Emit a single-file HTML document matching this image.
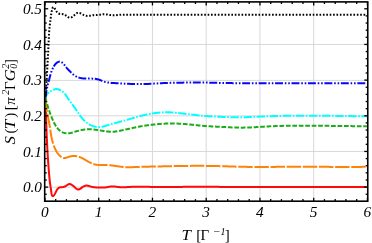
<!DOCTYPE html>
<html><head><meta charset="utf-8">
<style>
html,body{margin:0;padding:0;background:#fff;}
body{width:372px;height:243px;overflow:hidden;}
svg{display:block;will-change:transform;}
text{font-family:"Liberation Serif",serif;fill:#000;}
.tl text{font-size:15.3px;font-style:italic;}
.c path{fill:none;stroke-width:2.0;stroke-linejoin:round;}
</style></head><body>
<svg width="372" height="243" viewBox="0 0 372 243">
<rect width="372" height="243" fill="#fff"/>
<g stroke="#d8d8d8" stroke-width="1"><line x1="98.70" y1="1.9" x2="98.70" y2="201.2"/><line x1="152.45" y1="1.9" x2="152.45" y2="201.2"/><line x1="206.20" y1="1.9" x2="206.20" y2="201.2"/><line x1="259.95" y1="1.9" x2="259.95" y2="201.2"/><line x1="313.70" y1="1.9" x2="313.70" y2="201.2"/><line x1="44.7" y1="187.12" x2="367.75" y2="187.12"/><line x1="44.7" y1="151.45" x2="367.75" y2="151.45"/><line x1="44.7" y1="115.85" x2="367.75" y2="115.85"/><line x1="44.7" y1="80.40" x2="367.75" y2="80.40"/><line x1="44.7" y1="44.45" x2="367.75" y2="44.45"/></g>
<g class="c">
<path d="M45.40,97.70 L45.42,98.39 L45.45,99.08 L45.47,99.78 L45.49,100.47 L45.52,101.17 L45.54,101.86 L45.56,102.56 L45.59,103.25 L45.61,103.95 L45.63,104.65 L45.66,105.35 L45.68,106.05 L45.70,106.75 L45.72,107.45 L45.75,108.15 L45.77,108.85 L45.79,109.55 L45.82,110.25 L45.84,110.95 L45.86,111.66 L45.88,112.36 L45.91,113.06 L45.93,113.77 L45.95,114.47 L45.98,115.18 L46.00,115.88 L46.02,116.59 L46.05,117.29 L46.07,118.00 L46.10,118.71 L46.12,119.41 L46.14,120.12 L46.17,120.83 L46.19,121.53 L46.22,122.24 L46.24,122.95 L46.27,123.65 L46.29,124.36 L46.32,125.07 L46.34,125.78 L46.37,126.48 L46.39,127.19 L46.42,127.90 L46.45,128.60 L46.47,129.31 L46.50,130.02 L46.53,130.73 L46.56,131.43 L46.58,132.14 L46.61,132.84 L46.64,133.55 L46.67,134.26 L46.70,134.96 L46.73,135.67 L46.76,136.37 L46.79,137.08 L46.82,137.78 L46.85,138.49 L46.88,139.19 L46.91,139.90 L46.94,140.60 L46.98,141.30 L47.01,142.00 L47.04,142.71 L47.08,143.41 L47.11,144.11 L47.14,144.81 L47.18,145.51 L47.21,146.21 L47.25,146.91 L47.29,147.61 L47.32,148.30 L47.36,149.00 L47.40,149.70 L47.44,150.39 L47.48,151.09 L47.52,151.78 L47.56,152.48 L47.60,153.17 L47.64,153.86 L47.68,154.56 L47.72,155.25 L47.76,155.94 L47.81,156.63 L47.85,157.33 L47.90,158.02 L47.94,158.71 L47.99,159.40 L48.04,160.10 L48.08,160.79 L48.13,161.49 L48.18,162.18 L48.23,162.88 L48.28,163.58 L48.33,164.28 L48.38,164.98 L48.43,165.69 L48.48,166.39 L48.54,167.10 L48.59,167.80 L48.65,168.51 L48.70,169.23 L48.76,169.94 L48.82,170.66 L48.88,171.38 L48.93,172.10 L48.99,172.82 L49.05,173.55 L49.12,174.28 L49.18,175.01 L49.24,175.73 L49.31,176.46 L49.37,177.18 L49.44,177.90 L49.51,178.61 L49.58,179.32 L49.65,180.02 L49.73,180.71 L49.81,181.39 L49.89,182.06 L49.97,182.71 L50.05,183.35 L50.14,183.98 L50.23,184.59 L50.32,185.20 L50.42,185.82 L50.51,186.44 L50.62,187.09 L50.72,187.76 L50.83,188.47 L50.93,189.23 L51.05,190.03 L51.16,190.90 L51.28,191.83 L51.41,192.79 L51.56,193.73 L51.74,194.58 L51.97,195.30 L52.25,195.82 L52.60,196.09 L53.03,196.05 L53.53,195.71 L54.05,195.15 L54.54,194.49 L54.96,193.83 L55.31,193.18 L55.62,192.55 L55.90,191.93 L56.18,191.32 L56.47,190.71 L56.80,190.10 L57.18,189.49 L57.62,188.91 L58.11,188.37 L58.66,187.91 L59.25,187.56 L59.90,187.34 L60.58,187.23 L61.29,187.18 L62.01,187.14 L62.73,187.09 L63.43,186.97 L64.11,186.79 L64.77,186.55 L65.41,186.24 L66.02,185.85 L66.62,185.42 L67.21,184.97 L67.80,184.58 L68.41,184.27 L69.05,184.09 L69.72,184.09 L70.40,184.24 L71.09,184.50 L71.75,184.85 L72.37,185.25 L72.94,185.68 L73.47,186.13 L73.98,186.59 L74.48,187.07 L75.00,187.55 L75.54,188.04 L76.13,188.51 L76.74,188.94 L77.38,189.28 L78.02,189.47 L78.65,189.48 L79.27,189.31 L79.88,189.01 L80.49,188.60 L81.10,188.13 L81.71,187.64 L82.33,187.18 L82.96,186.76 L83.59,186.39 L84.23,186.08 L84.88,185.84 L85.54,185.68 L86.21,185.60 L86.88,185.61 L87.57,185.70 L88.25,185.85 L88.95,186.04 L89.64,186.25 L90.33,186.45 L91.03,186.64 L91.72,186.81 L92.41,186.95 L93.10,187.08 L93.79,187.18 L94.48,187.27 L95.17,187.33 L95.87,187.38 L96.57,187.42 L97.27,187.44 L97.98,187.46 L98.68,187.47 L99.39,187.48 L100.09,187.50 L100.59,187.51 L101.09,187.52 L101.59,187.53 L102.09,187.54 L102.59,187.54 L103.09,187.54 L103.59,187.53 L104.09,187.52 L104.59,187.49 L105.09,187.45 L105.59,187.40 L106.09,187.34 L106.59,187.27 L107.09,187.18 L107.59,187.08 L108.09,186.98 L108.59,186.88 L109.09,186.78 L109.59,186.68 L110.09,186.60 L110.59,186.52 L111.09,186.46 L111.59,186.43 L112.09,186.41 L112.59,186.40 L113.09,186.42 L113.59,186.45 L114.09,186.50 L114.59,186.55 L115.09,186.61 L115.59,186.67 L116.09,186.74 L116.59,186.81 L117.09,186.87 L117.59,186.93 L118.09,186.99 L118.59,187.05 L119.09,187.10 L119.59,187.14 L120.09,187.17 L120.59,187.20 L121.09,187.22 L121.59,187.24 L122.09,187.25 L122.59,187.25 L123.09,187.25 L123.59,187.25 L124.09,187.24 L124.59,187.23 L125.09,187.21 L125.59,187.19 L126.09,187.17 L126.59,187.15 L127.09,187.12 L127.59,187.10 L128.09,187.07 L128.59,187.04 L129.09,187.01 L129.59,186.98 L130.09,186.95 L130.59,186.92 L131.09,186.89 L131.59,186.86 L132.09,186.84 L132.59,186.81 L133.09,186.78 L133.59,186.76 L134.09,186.74 L134.59,186.72 L135.09,186.70 L135.59,186.68 L136.09,186.67 L136.59,186.66 L137.09,186.65 L137.59,186.64 L138.09,186.63 L138.59,186.63 L139.09,186.63 L139.59,186.63 L140.09,186.63 L140.59,186.63 L141.09,186.64 L141.59,186.64 L142.09,186.65 L142.59,186.66 L143.09,186.67 L143.59,186.68 L144.09,186.70 L144.59,186.71 L145.09,186.72 L145.59,186.74 L146.09,186.75 L146.59,186.77 L147.09,186.78 L147.59,186.80 L148.09,186.82 L148.59,186.83 L149.09,186.85 L149.59,186.86 L150.09,186.88 L150.59,186.89 L151.09,186.91 L151.59,186.92 L152.09,186.94 L152.59,186.95 L153.09,186.96 L153.59,186.97 L154.09,186.98 L154.59,186.99 L155.09,187.00 L155.59,187.01 L156.09,187.02 L156.59,187.03 L157.09,187.03 L157.59,187.04 L158.09,187.05 L158.59,187.05 L159.09,187.05 L159.59,187.06 L160.09,187.06 L160.59,187.06 L161.09,187.06 L161.59,187.07 L162.09,187.07 L162.59,187.07 L163.09,187.07 L163.59,187.07 L164.09,187.06 L164.59,187.06 L165.09,187.06 L165.59,187.06 L166.09,187.06 L166.59,187.05 L167.09,187.05 L167.59,187.05 L168.09,187.04 L168.59,187.04 L169.09,187.03 L169.59,187.03 L170.09,187.02 L170.59,187.02 L171.09,187.01 L171.59,187.01 L172.09,187.00 L172.59,186.99 L173.09,186.99 L173.59,186.98 L174.09,186.98 L174.59,186.97 L175.09,186.96 L175.59,186.96 L176.09,186.95 L176.59,186.95 L177.09,186.94 L177.59,186.93 L178.09,186.93 L178.59,186.92 L179.09,186.92 L179.59,186.91 L180.09,186.90 L180.59,186.90 L181.09,186.89 L181.59,186.89 L182.09,186.88 L182.59,186.88 L183.09,186.87 L183.59,186.87 L184.09,186.87 L184.59,186.86 L185.09,186.86 L185.59,186.85 L186.09,186.85 L186.59,186.85 L187.09,186.84 L187.59,186.84 L188.09,186.84 L188.59,186.83 L189.09,186.83 L189.59,186.83 L190.09,186.82 L190.59,186.82 L191.09,186.82 L191.59,186.82 L192.09,186.82 L192.59,186.81 L193.09,186.81 L193.59,186.81 L194.09,186.81 L194.59,186.81 L195.09,186.81 L195.59,186.81 L196.09,186.81 L196.59,186.81 L197.09,186.80 L197.59,186.80 L198.09,186.80 L198.59,186.80 L199.09,186.80 L199.59,186.80 L200.09,186.80 L200.59,186.80 L201.09,186.80 L201.59,186.81 L202.09,186.81 L202.59,186.81 L203.09,186.81 L203.59,186.81 L204.09,186.81 L204.59,186.81 L205.09,186.81 L205.59,186.81 L206.09,186.81 L206.59,186.82 L207.09,186.82 L207.59,186.82 L208.09,186.82 L208.59,186.82 L209.09,186.82 L209.59,186.83 L210.09,186.83 L210.59,186.83 L211.09,186.83 L211.59,186.83 L212.09,186.84 L212.59,186.84 L213.09,186.84 L213.59,186.84 L214.09,186.85 L214.59,186.85 L215.09,186.85 L215.59,186.85 L216.09,186.86 L216.59,186.86 L217.09,186.86 L217.59,186.87 L218.09,186.87 L218.59,186.87 L219.09,186.87 L219.59,186.88 L220.09,186.88 L220.59,186.88 L221.09,186.89 L221.59,186.89 L222.09,186.89 L222.59,186.90 L223.09,186.90 L223.59,186.90 L224.09,186.90 L224.59,186.91 L225.09,186.91 L225.59,186.91 L226.09,186.92 L226.59,186.92 L227.09,186.92 L227.59,186.93 L228.09,186.93 L228.59,186.93 L229.09,186.94 L229.59,186.94 L230.09,186.94 L230.59,186.95 L231.09,186.95 L231.59,186.95 L232.09,186.95 L232.59,186.96 L233.09,186.96 L233.59,186.96 L234.09,186.97 L234.59,186.97 L235.09,186.97 L235.59,186.97 L236.09,186.98 L236.59,186.98 L237.09,186.98 L237.59,186.99 L238.09,186.99 L238.59,186.99 L239.09,186.99 L239.59,187.00 L240.09,187.00 L240.59,187.00 L241.09,187.00 L241.59,187.01 L242.09,187.01 L242.59,187.01 L243.09,187.01 L243.59,187.01 L244.09,187.02 L244.59,187.02 L245.09,187.02 L245.59,187.02 L246.09,187.02 L246.59,187.02 L247.09,187.03 L247.59,187.03 L248.09,187.03 L248.59,187.03 L249.09,187.03 L249.59,187.03 L250.09,187.04 L250.59,187.04 L251.09,187.04 L251.59,187.04 L252.09,187.04 L252.59,187.04 L253.09,187.04 L253.59,187.04 L254.09,187.04 L254.59,187.05 L255.09,187.05 L255.59,187.05 L256.09,187.05 L256.59,187.05 L257.09,187.05 L257.59,187.05 L258.09,187.05 L258.59,187.05 L259.09,187.05 L259.59,187.05 L260.09,187.05 L260.59,187.05 L261.09,187.05 L261.59,187.05 L262.09,187.05 L262.59,187.05 L263.09,187.05 L263.59,187.05 L264.09,187.06 L264.59,187.06 L265.09,187.06 L265.59,187.06 L266.09,187.06 L266.59,187.06 L267.09,187.06 L267.59,187.06 L268.09,187.06 L268.59,187.05 L269.09,187.05 L269.59,187.05 L270.09,187.05 L270.59,187.05 L271.09,187.05 L271.59,187.05 L272.09,187.05 L272.59,187.05 L273.09,187.05 L273.59,187.05 L274.09,187.05 L274.59,187.05 L275.09,187.05 L275.59,187.05 L276.09,187.05 L276.59,187.05 L277.09,187.05 L277.59,187.05 L278.09,187.05 L278.59,187.05 L279.09,187.04 L279.59,187.04 L280.09,187.04 L280.59,187.04 L281.09,187.04 L281.59,187.04 L282.09,187.04 L282.59,187.04 L283.09,187.04 L283.59,187.04 L284.09,187.04 L284.59,187.04 L285.09,187.03 L285.59,187.03 L286.09,187.03 L286.59,187.03 L287.09,187.03 L287.59,187.03 L288.09,187.03 L288.59,187.03 L289.09,187.03 L289.59,187.02 L290.09,187.02 L290.59,187.02 L291.09,187.02 L291.59,187.02 L292.09,187.02 L292.59,187.02 L293.09,187.02 L293.59,187.02 L294.09,187.01 L294.59,187.01 L295.09,187.01 L295.59,187.01 L296.09,187.01 L296.59,187.01 L297.09,187.01 L297.59,187.01 L298.09,187.00 L298.59,187.00 L299.09,187.00 L299.59,187.00 L300.09,187.00 L300.59,187.00 L301.09,187.00 L301.59,187.00 L302.09,186.99 L302.59,186.99 L303.09,186.99 L303.59,186.99 L304.09,186.99 L304.59,186.99 L305.09,186.99 L305.59,186.99 L306.09,186.98 L306.59,186.98 L307.09,186.98 L307.59,186.98 L308.09,186.98 L308.59,186.98 L309.09,186.98 L309.59,186.98 L310.09,186.97 L310.59,186.97 L311.09,186.97 L311.59,186.97 L312.09,186.97 L312.59,186.97 L313.09,186.97 L313.59,186.97 L314.09,186.97 L314.59,186.96 L315.09,186.96 L315.59,186.96 L316.09,186.96 L316.59,186.96 L317.09,186.96 L317.59,186.96 L318.09,186.96 L318.59,186.96 L319.09,186.95 L319.59,186.95 L320.09,186.95 L320.59,186.95 L321.09,186.95 L321.59,186.95 L322.09,186.95 L322.59,186.95 L323.09,186.95 L323.59,186.95 L324.09,186.95 L324.59,186.94 L325.09,186.94 L325.59,186.94 L326.09,186.94 L326.59,186.94 L327.09,186.94 L327.59,186.94 L328.09,186.94 L328.59,186.94 L329.09,186.94 L329.59,186.94 L330.09,186.94 L330.59,186.94 L331.09,186.94 L331.59,186.94 L332.09,186.94 L332.59,186.94 L333.09,186.93 L333.59,186.93 L334.09,186.93 L334.59,186.93 L335.09,186.93 L335.59,186.93 L336.09,186.93 L336.59,186.93 L337.09,186.93 L337.59,186.93 L338.09,186.93 L338.59,186.93 L339.09,186.93 L339.59,186.93 L340.09,186.93 L340.59,186.93 L341.09,186.93 L341.59,186.93 L342.09,186.93 L342.59,186.93 L343.09,186.93 L343.59,186.93 L344.09,186.93 L344.59,186.94 L345.09,186.94 L345.59,186.94 L346.09,186.94 L346.59,186.94 L347.09,186.94 L347.59,186.94 L348.09,186.94 L348.59,186.94 L349.09,186.94 L349.59,186.94 L350.09,186.94 L350.59,186.94 L351.09,186.94 L351.59,186.95 L352.09,186.95 L352.59,186.95 L353.09,186.95 L353.59,186.95 L354.09,186.95 L354.59,186.95 L355.09,186.95 L355.59,186.96 L356.09,186.96 L356.59,186.96 L357.09,186.96 L357.59,186.96 L358.09,186.96 L358.59,186.96 L359.09,186.97 L359.59,186.97 L360.09,186.97 L360.59,186.97 L361.09,186.97 L361.59,186.97 L362.09,186.98 L362.59,186.98 L363.09,186.98 L363.59,186.98 L364.09,186.98 L364.59,186.98 L365.09,186.99 L365.59,186.99 L366.09,186.99 L366.59,186.99" stroke="#ff0808" stroke-width="1.95"/>
<path d="M45.40,97.70 L45.42,98.32 L45.44,98.94 L45.47,99.57 L45.50,100.18 L45.54,100.80 L45.59,101.42 L45.64,102.04 L45.70,102.66 L45.76,103.27 L45.83,103.89 L45.90,104.50 L45.98,105.11 L46.06,105.73 L46.14,106.34 L46.23,106.95 L46.32,107.56 L46.42,108.17 L46.51,108.78 L46.61,109.39 L46.72,110.00 L46.82,110.61 L46.93,111.22 L47.04,111.82 L47.15,112.43 L47.27,113.04 L47.38,113.65 L47.50,114.26 L47.62,114.86 L47.74,115.47 L47.86,116.08 L47.98,116.68 L48.10,117.29 L48.22,117.90 L48.34,118.50 L48.46,119.11 L48.57,119.72 L48.69,120.33 L48.81,120.94 L48.93,121.54 L49.04,122.15 L49.15,122.76 L49.26,123.37 L49.37,123.98 L49.48,124.59 L49.58,125.20 L49.69,125.81 L49.78,126.42 L49.88,127.03 L49.97,127.65 L50.07,128.26 L50.16,128.87 L50.25,129.49 L50.34,130.10 L50.43,130.71 L50.52,131.32 L50.61,131.94 L50.70,132.55 L50.80,133.16 L50.90,133.77 L51.00,134.38 L51.10,134.99 L51.21,135.60 L51.32,136.21 L51.43,136.82 L51.55,137.42 L51.68,138.03 L51.81,138.63 L51.94,139.23 L52.09,139.83 L52.24,140.43 L52.39,141.03 L52.55,141.63 L52.72,142.22 L52.90,142.81 L53.08,143.41 L53.27,144.00 L53.46,144.59 L53.67,145.17 L53.87,145.76 L54.09,146.34 L54.31,146.92 L54.55,147.50 L54.79,148.08 L55.04,148.65 L55.30,149.22 L55.57,149.78 L55.85,150.33 L56.14,150.87 L56.45,151.41 L56.77,151.93 L57.10,152.45 L57.45,152.95 L57.81,153.45 L58.19,153.93 L58.58,154.40 L59.00,154.86 L59.43,155.31 L59.89,155.74 L60.36,156.17 L60.86,156.58 L61.38,156.97 L61.91,157.31 L62.46,157.61 L63.03,157.84 L63.61,157.99 L64.20,158.04 L64.80,158.01 L65.40,157.91 L66.01,157.76 L66.62,157.57 L67.23,157.37 L67.84,157.15 L68.45,156.95 L69.06,156.76 L69.66,156.59 L70.27,156.44 L70.87,156.31 L71.47,156.20 L72.08,156.11 L72.69,156.04 L73.30,156.00 L73.91,155.98 L74.53,155.99 L75.15,156.03 L75.77,156.09 L76.39,156.17 L77.00,156.28 L77.61,156.41 L78.22,156.56 L78.81,156.74 L79.40,156.93 L79.98,157.15 L80.56,157.39 L81.12,157.64 L81.68,157.90 L82.24,158.18 L82.79,158.47 L83.33,158.77 L83.87,159.07 L84.41,159.38 L84.94,159.69 L85.48,160.01 L86.01,160.32 L86.54,160.64 L87.07,160.95 L87.61,161.26 L88.15,161.56 L88.69,161.87 L89.23,162.16 L89.78,162.45 L90.34,162.72 L90.90,162.99 L91.47,163.24 L92.04,163.48 L92.62,163.71 L93.20,163.92 L93.79,164.11 L94.38,164.29 L94.98,164.44 L95.58,164.58 L96.19,164.70 L96.80,164.79 L97.41,164.88 L98.03,164.94 L98.65,165.00 L99.27,165.04 L99.89,165.07 L100.51,165.09 L101.01,165.10 L101.51,165.10 L102.01,165.10 L102.51,165.10 L103.01,165.09 L103.51,165.09 L104.01,165.08 L104.51,165.08 L105.01,165.07 L105.51,165.07 L106.01,165.07 L106.51,165.07 L107.01,165.08 L107.51,165.10 L108.01,165.11 L108.51,165.14 L109.01,165.17 L109.51,165.21 L110.01,165.25 L110.51,165.30 L111.01,165.35 L111.51,165.41 L112.01,165.47 L112.51,165.53 L113.01,165.60 L113.51,165.67 L114.01,165.74 L114.51,165.82 L115.01,165.89 L115.51,165.97 L116.01,166.04 L116.51,166.12 L117.01,166.20 L117.51,166.27 L118.01,166.35 L118.51,166.42 L119.01,166.49 L119.51,166.56 L120.01,166.62 L120.51,166.69 L121.01,166.75 L121.51,166.81 L122.01,166.86 L122.51,166.91 L123.01,166.96 L123.51,167.00 L124.01,167.04 L124.51,167.07 L125.01,167.11 L125.51,167.13 L126.01,167.15 L126.51,167.17 L127.01,167.19 L127.51,167.20 L128.01,167.21 L128.51,167.21 L129.01,167.21 L129.51,167.21 L130.01,167.20 L130.51,167.20 L131.01,167.19 L131.51,167.18 L132.01,167.17 L132.51,167.16 L133.01,167.14 L133.51,167.12 L134.01,167.10 L134.51,167.08 L135.01,167.06 L135.51,167.04 L136.01,167.02 L136.51,167.00 L137.01,166.98 L137.51,166.96 L138.01,166.94 L138.51,166.92 L139.01,166.89 L139.51,166.88 L140.01,166.86 L140.51,166.84 L141.01,166.82 L141.51,166.80 L142.01,166.79 L142.51,166.77 L143.01,166.76 L143.51,166.75 L144.01,166.73 L144.51,166.72 L145.01,166.71 L145.51,166.70 L146.01,166.69 L146.51,166.68 L147.01,166.67 L147.51,166.66 L148.01,166.65 L148.51,166.64 L149.01,166.64 L149.51,166.63 L150.01,166.62 L150.51,166.61 L151.01,166.61 L151.51,166.60 L152.01,166.59 L152.51,166.58 L153.01,166.57 L153.51,166.56 L154.01,166.56 L154.51,166.55 L155.01,166.54 L155.51,166.53 L156.01,166.52 L156.51,166.51 L157.01,166.50 L157.51,166.49 L158.01,166.48 L158.51,166.47 L159.01,166.46 L159.51,166.44 L160.01,166.43 L160.51,166.42 L161.01,166.41 L161.51,166.40 L162.01,166.39 L162.51,166.37 L163.01,166.36 L163.51,166.35 L164.01,166.34 L164.51,166.32 L165.01,166.31 L165.51,166.30 L166.01,166.29 L166.51,166.28 L167.01,166.26 L167.51,166.25 L168.01,166.24 L168.51,166.23 L169.01,166.22 L169.51,166.20 L170.01,166.19 L170.51,166.18 L171.01,166.17 L171.51,166.16 L172.01,166.15 L172.51,166.14 L173.01,166.13 L173.51,166.12 L174.01,166.11 L174.51,166.10 L175.01,166.09 L175.51,166.08 L176.01,166.07 L176.51,166.06 L177.01,166.05 L177.51,166.04 L178.01,166.03 L178.51,166.02 L179.01,166.01 L179.51,166.01 L180.01,166.00 L180.51,165.99 L181.01,165.98 L181.51,165.98 L182.01,165.97 L182.51,165.96 L183.01,165.95 L183.51,165.95 L184.01,165.94 L184.51,165.94 L185.01,165.93 L185.51,165.92 L186.01,165.92 L186.51,165.91 L187.01,165.91 L187.51,165.90 L188.01,165.90 L188.51,165.89 L189.01,165.89 L189.51,165.89 L190.01,165.88 L190.51,165.88 L191.01,165.87 L191.51,165.87 L192.01,165.87 L192.51,165.87 L193.01,165.86 L193.51,165.86 L194.01,165.86 L194.51,165.86 L195.01,165.86 L195.51,165.85 L196.01,165.85 L196.51,165.85 L197.01,165.85 L197.51,165.85 L198.01,165.85 L198.51,165.85 L199.01,165.85 L199.51,165.85 L200.01,165.85 L200.51,165.86 L201.01,165.86 L201.51,165.86 L202.01,165.86 L202.51,165.86 L203.01,165.87 L203.51,165.87 L204.01,165.87 L204.51,165.88 L205.01,165.88 L205.51,165.89 L206.01,165.89 L206.51,165.90 L207.01,165.90 L207.51,165.91 L208.01,165.91 L208.51,165.92 L209.01,165.93 L209.51,165.93 L210.01,165.94 L210.51,165.95 L211.01,165.96 L211.51,165.96 L212.01,165.97 L212.51,165.98 L213.01,165.99 L213.51,166.00 L214.01,166.01 L214.51,166.02 L215.01,166.03 L215.51,166.04 L216.01,166.05 L216.51,166.06 L217.01,166.08 L217.51,166.09 L218.01,166.10 L218.51,166.11 L219.01,166.12 L219.51,166.14 L220.01,166.15 L220.51,166.16 L221.01,166.18 L221.51,166.19 L222.01,166.21 L222.51,166.22 L223.01,166.23 L223.51,166.25 L224.01,166.26 L224.51,166.28 L225.01,166.30 L225.51,166.31 L226.01,166.33 L226.51,166.34 L227.01,166.36 L227.51,166.37 L228.01,166.39 L228.51,166.41 L229.01,166.42 L229.51,166.44 L230.01,166.45 L230.51,166.47 L231.01,166.49 L231.51,166.50 L232.01,166.52 L232.51,166.54 L233.01,166.55 L233.51,166.57 L234.01,166.58 L234.51,166.60 L235.01,166.61 L235.51,166.63 L236.01,166.64 L236.51,166.66 L237.01,166.67 L237.51,166.68 L238.01,166.70 L238.51,166.71 L239.01,166.72 L239.51,166.74 L240.01,166.75 L240.51,166.76 L241.01,166.77 L241.51,166.78 L242.01,166.79 L242.51,166.80 L243.01,166.81 L243.51,166.82 L244.01,166.83 L244.51,166.84 L245.01,166.85 L245.51,166.86 L246.01,166.86 L246.51,166.87 L247.01,166.88 L247.51,166.88 L248.01,166.89 L248.51,166.90 L249.01,166.90 L249.51,166.91 L250.01,166.91 L250.51,166.92 L251.01,166.92 L251.51,166.92 L252.01,166.93 L252.51,166.93 L253.01,166.93 L253.51,166.94 L254.01,166.94 L254.51,166.94 L255.01,166.94 L255.51,166.94 L256.01,166.95 L256.51,166.95 L257.01,166.95 L257.51,166.95 L258.01,166.95 L258.51,166.95 L259.01,166.95 L259.51,166.95 L260.01,166.95 L260.51,166.95 L261.01,166.95 L261.51,166.95 L262.01,166.94 L262.51,166.94 L263.01,166.94 L263.51,166.94 L264.01,166.94 L264.51,166.94 L265.01,166.93 L265.51,166.93 L266.01,166.93 L266.51,166.93 L267.01,166.93 L267.51,166.92 L268.01,166.92 L268.51,166.92 L269.01,166.92 L269.51,166.91 L270.01,166.91 L270.51,166.91 L271.01,166.90 L271.51,166.90 L272.01,166.90 L272.51,166.90 L273.01,166.89 L273.51,166.89 L274.01,166.89 L274.51,166.88 L275.01,166.88 L275.51,166.88 L276.01,166.87 L276.51,166.87 L277.01,166.87 L277.51,166.87 L278.01,166.86 L278.51,166.86 L279.01,166.86 L279.51,166.86 L280.01,166.85 L280.51,166.85 L281.01,166.85 L281.51,166.85 L282.01,166.84 L282.51,166.84 L283.01,166.84 L283.51,166.84 L284.01,166.84 L284.51,166.83 L285.01,166.83 L285.51,166.83 L286.01,166.83 L286.51,166.83 L287.01,166.83 L287.51,166.82 L288.01,166.82 L288.51,166.82 L289.01,166.82 L289.51,166.82 L290.01,166.82 L290.51,166.82 L291.01,166.82 L291.51,166.82 L292.01,166.82 L292.51,166.81 L293.01,166.81 L293.51,166.81 L294.01,166.81 L294.51,166.81 L295.01,166.81 L295.51,166.81 L296.01,166.81 L296.51,166.81 L297.01,166.81 L297.51,166.81 L298.01,166.81 L298.51,166.81 L299.01,166.81 L299.51,166.81 L300.01,166.81 L300.51,166.81 L301.01,166.81 L301.51,166.81 L302.01,166.81 L302.51,166.81 L303.01,166.81 L303.51,166.82 L304.01,166.82 L304.51,166.82 L305.01,166.82 L305.51,166.82 L306.01,166.82 L306.51,166.82 L307.01,166.82 L307.51,166.82 L308.01,166.82 L308.51,166.82 L309.01,166.82 L309.51,166.82 L310.01,166.83 L310.51,166.83 L311.01,166.83 L311.51,166.83 L312.01,166.83 L312.51,166.83 L313.01,166.83 L313.51,166.83 L314.01,166.83 L314.51,166.84 L315.01,166.84 L315.51,166.84 L316.01,166.84 L316.51,166.84 L317.01,166.84 L317.51,166.84 L318.01,166.84 L318.51,166.85 L319.01,166.85 L319.51,166.85 L320.01,166.85 L320.51,166.85 L321.01,166.85 L321.51,166.85 L322.01,166.86 L322.51,166.86 L323.01,166.86 L323.51,166.86 L324.01,166.86 L324.51,166.86 L325.01,166.86 L325.51,166.87 L326.01,166.87 L326.51,166.87 L327.01,166.87 L327.51,166.87 L328.01,166.87 L328.51,166.87 L329.01,166.87 L329.51,166.88 L330.01,166.88 L330.51,166.88 L331.01,166.88 L331.51,166.88 L332.01,166.88 L332.51,166.88 L333.01,166.88 L333.51,166.89 L334.01,166.89 L334.51,166.89 L335.01,166.89 L335.51,166.89 L336.01,166.89 L336.51,166.89 L337.01,166.89 L337.51,166.89 L338.01,166.89 L338.51,166.89 L339.01,166.90 L339.51,166.90 L340.01,166.90 L340.51,166.90 L341.01,166.90 L341.51,166.90 L342.01,166.90 L342.51,166.90 L343.01,166.90 L343.51,166.90 L344.01,166.90 L344.51,166.90 L345.01,166.90 L345.51,166.90 L346.01,166.90 L346.51,166.90 L347.01,166.90 L347.51,166.90 L348.01,166.90 L348.51,166.90 L349.01,166.90 L349.51,166.90 L350.01,166.90 L350.51,166.90 L351.01,166.90 L351.51,166.90 L352.01,166.90 L352.51,166.90 L353.01,166.90 L353.51,166.90 L354.01,166.90 L354.51,166.89 L355.01,166.89 L355.51,166.89 L356.01,166.89 L356.51,166.89 L357.01,166.89 L357.51,166.89 L358.01,166.89 L358.51,166.89 L359.01,166.88 L359.51,166.88 L360.01,166.88 L360.51,166.88 L361.01,166.88 L361.51,166.88 L362.01,166.87 L362.51,166.87 L363.01,166.87 L363.51,166.87 L364.01,166.87 L364.51,166.87 L365.01,166.87 L365.51,166.86 L366.01,166.86 L366.51,166.86" stroke="#ff8208" stroke-dasharray="14.4 1.74" stroke-dashoffset="0.0"/>
<path d="M45.40,97.70 L45.54,98.26 L45.68,98.82 L45.82,99.38 L45.96,99.94 L46.11,100.50 L46.26,101.05 L46.41,101.61 L46.56,102.17 L46.72,102.72 L46.87,103.28 L47.03,103.83 L47.20,104.39 L47.36,104.94 L47.53,105.49 L47.70,106.04 L47.87,106.60 L48.04,107.15 L48.22,107.70 L48.39,108.25 L48.57,108.79 L48.75,109.34 L48.94,109.89 L49.12,110.44 L49.31,110.98 L49.50,111.53 L49.69,112.07 L49.89,112.61 L50.08,113.16 L50.28,113.70 L50.48,114.24 L50.68,114.78 L50.88,115.32 L51.09,115.86 L51.30,116.40 L51.51,116.93 L51.72,117.47 L51.94,118.00 L52.16,118.54 L52.38,119.07 L52.61,119.60 L52.84,120.13 L53.07,120.65 L53.32,121.18 L53.56,121.70 L53.81,122.22 L54.07,122.74 L54.34,123.26 L54.61,123.77 L54.88,124.28 L55.17,124.79 L55.46,125.29 L55.77,125.78 L56.08,126.27 L56.41,126.74 L56.74,127.22 L57.09,127.68 L57.45,128.13 L57.82,128.57 L58.21,129.00 L58.61,129.42 L59.02,129.82 L59.45,130.22 L59.90,130.59 L60.35,130.95 L60.83,131.28 L61.31,131.60 L61.81,131.90 L62.33,132.17 L62.85,132.41 L63.39,132.63 L63.94,132.83 L64.50,133.00 L65.07,133.14 L65.64,133.25 L66.22,133.33 L66.80,133.38 L67.38,133.41 L67.96,133.40 L68.53,133.37 L69.10,133.30 L69.67,133.21 L70.23,133.10 L70.80,132.97 L71.36,132.83 L71.91,132.67 L72.47,132.51 L73.03,132.33 L73.58,132.16 L74.14,131.98 L74.69,131.81 L75.25,131.64 L75.81,131.48 L76.36,131.32 L76.92,131.16 L77.47,131.01 L78.03,130.87 L78.59,130.73 L79.15,130.59 L79.71,130.46 L80.27,130.33 L80.84,130.21 L81.40,130.10 L81.97,129.99 L82.54,129.88 L83.11,129.78 L83.68,129.69 L84.25,129.60 L84.82,129.52 L85.40,129.45 L85.97,129.39 L86.55,129.33 L87.12,129.28 L87.70,129.25 L88.27,129.22 L88.85,129.21 L89.43,129.20 L90.00,129.21 L90.58,129.22 L91.16,129.25 L91.73,129.29 L92.31,129.33 L92.88,129.38 L93.46,129.44 L94.03,129.51 L94.60,129.58 L95.18,129.66 L95.75,129.74 L96.32,129.82 L96.89,129.91 L97.46,130.00 L98.04,130.09 L98.61,130.18 L99.18,130.27 L99.75,130.36 L100.31,130.45 L100.81,130.54 L101.31,130.62 L101.81,130.70 L102.31,130.77 L102.81,130.85 L103.31,130.92 L103.81,131.00 L104.31,131.07 L104.81,131.14 L105.31,131.20 L105.81,131.27 L106.31,131.33 L106.81,131.39 L107.31,131.45 L107.81,131.50 L108.31,131.55 L108.81,131.60 L109.31,131.64 L109.81,131.67 L110.31,131.70 L110.81,131.72 L111.31,131.73 L111.81,131.74 L112.31,131.73 L112.81,131.72 L113.31,131.70 L113.81,131.67 L114.31,131.63 L114.81,131.58 L115.31,131.53 L115.81,131.46 L116.31,131.39 L116.81,131.32 L117.31,131.24 L117.81,131.15 L118.31,131.06 L118.81,130.97 L119.31,130.87 L119.81,130.77 L120.31,130.67 L120.81,130.57 L121.31,130.47 L121.81,130.37 L122.31,130.26 L122.81,130.16 L123.31,130.05 L123.81,129.94 L124.31,129.83 L124.81,129.72 L125.31,129.61 L125.81,129.50 L126.31,129.39 L126.81,129.28 L127.31,129.17 L127.81,129.06 L128.31,128.95 L128.81,128.83 L129.31,128.72 L129.81,128.61 L130.31,128.50 L130.81,128.38 L131.31,128.27 L131.81,128.16 L132.31,128.05 L132.81,127.94 L133.31,127.83 L133.81,127.72 L134.31,127.61 L134.81,127.50 L135.31,127.40 L135.81,127.29 L136.31,127.19 L136.81,127.08 L137.31,126.98 L137.81,126.88 L138.31,126.78 L138.81,126.68 L139.31,126.59 L139.81,126.50 L140.31,126.40 L140.81,126.31 L141.31,126.23 L141.81,126.14 L142.31,126.06 L142.81,125.98 L143.31,125.90 L143.81,125.82 L144.31,125.74 L144.81,125.67 L145.31,125.59 L145.81,125.52 L146.31,125.45 L146.81,125.39 L147.31,125.32 L147.81,125.25 L148.31,125.19 L148.81,125.13 L149.31,125.07 L149.81,125.01 L150.31,124.95 L150.81,124.89 L151.31,124.83 L151.81,124.77 L152.31,124.72 L152.81,124.66 L153.31,124.61 L153.81,124.55 L154.31,124.50 L154.81,124.45 L155.31,124.40 L155.81,124.34 L156.31,124.29 L156.81,124.25 L157.31,124.20 L157.81,124.15 L158.31,124.11 L158.81,124.06 L159.31,124.02 L159.81,123.98 L160.31,123.94 L160.81,123.90 L161.31,123.86 L161.81,123.82 L162.31,123.79 L162.81,123.76 L163.31,123.73 L163.81,123.70 L164.31,123.67 L164.81,123.64 L165.31,123.62 L165.81,123.60 L166.31,123.58 L166.81,123.56 L167.31,123.54 L167.81,123.53 L168.31,123.51 L168.81,123.50 L169.31,123.49 L169.81,123.49 L170.31,123.48 L170.81,123.48 L171.31,123.48 L171.81,123.48 L172.31,123.48 L172.81,123.48 L173.31,123.49 L173.81,123.49 L174.31,123.50 L174.81,123.51 L175.31,123.53 L175.81,123.54 L176.31,123.55 L176.81,123.57 L177.31,123.59 L177.81,123.61 L178.31,123.63 L178.81,123.65 L179.31,123.68 L179.81,123.70 L180.31,123.73 L180.81,123.76 L181.31,123.79 L181.81,123.82 L182.31,123.85 L182.81,123.88 L183.31,123.92 L183.81,123.95 L184.31,123.99 L184.81,124.03 L185.31,124.07 L185.81,124.11 L186.31,124.15 L186.81,124.19 L187.31,124.24 L187.81,124.28 L188.31,124.33 L188.81,124.38 L189.31,124.43 L189.81,124.48 L190.31,124.53 L190.81,124.58 L191.31,124.63 L191.81,124.68 L192.31,124.74 L192.81,124.79 L193.31,124.84 L193.81,124.90 L194.31,124.95 L194.81,125.01 L195.31,125.07 L195.81,125.12 L196.31,125.18 L196.81,125.23 L197.31,125.28 L197.81,125.34 L198.31,125.39 L198.81,125.44 L199.31,125.50 L199.81,125.55 L200.31,125.59 L200.81,125.64 L201.31,125.69 L201.81,125.74 L202.31,125.78 L202.81,125.82 L203.31,125.87 L203.81,125.91 L204.31,125.95 L204.81,125.98 L205.31,126.02 L205.81,126.06 L206.31,126.09 L206.81,126.13 L207.31,126.16 L207.81,126.19 L208.31,126.22 L208.81,126.25 L209.31,126.28 L209.81,126.31 L210.31,126.34 L210.81,126.36 L211.31,126.39 L211.81,126.41 L212.31,126.44 L212.81,126.47 L213.31,126.49 L213.81,126.51 L214.31,126.54 L214.81,126.56 L215.31,126.59 L215.81,126.61 L216.31,126.63 L216.81,126.66 L217.31,126.68 L217.81,126.71 L218.31,126.73 L218.81,126.76 L219.31,126.78 L219.81,126.81 L220.31,126.83 L220.81,126.86 L221.31,126.88 L221.81,126.91 L222.31,126.93 L222.81,126.96 L223.31,126.99 L223.81,127.01 L224.31,127.04 L224.81,127.07 L225.31,127.09 L225.81,127.12 L226.31,127.15 L226.81,127.17 L227.31,127.20 L227.81,127.23 L228.31,127.25 L228.81,127.28 L229.31,127.30 L229.81,127.33 L230.31,127.35 L230.81,127.37 L231.31,127.40 L231.81,127.42 L232.31,127.44 L232.81,127.46 L233.31,127.48 L233.81,127.50 L234.31,127.52 L234.81,127.54 L235.31,127.55 L235.81,127.57 L236.31,127.58 L236.81,127.59 L237.31,127.60 L237.81,127.61 L238.31,127.62 L238.81,127.63 L239.31,127.63 L239.81,127.64 L240.31,127.64 L240.81,127.64 L241.31,127.64 L241.81,127.64 L242.31,127.64 L242.81,127.63 L243.31,127.63 L243.81,127.62 L244.31,127.61 L244.81,127.60 L245.31,127.59 L245.81,127.58 L246.31,127.57 L246.81,127.55 L247.31,127.54 L247.81,127.52 L248.31,127.50 L248.81,127.49 L249.31,127.47 L249.81,127.45 L250.31,127.43 L250.81,127.40 L251.31,127.38 L251.81,127.36 L252.31,127.33 L252.81,127.31 L253.31,127.28 L253.81,127.25 L254.31,127.23 L254.81,127.20 L255.31,127.17 L255.81,127.15 L256.31,127.12 L256.81,127.09 L257.31,127.06 L257.81,127.03 L258.31,127.00 L258.81,126.97 L259.31,126.94 L259.81,126.91 L260.31,126.88 L260.81,126.85 L261.31,126.82 L261.81,126.79 L262.31,126.76 L262.81,126.73 L263.31,126.70 L263.81,126.67 L264.31,126.64 L264.81,126.61 L265.31,126.58 L265.81,126.55 L266.31,126.53 L266.81,126.50 L267.31,126.47 L267.81,126.44 L268.31,126.42 L268.81,126.39 L269.31,126.36 L269.81,126.34 L270.31,126.31 L270.81,126.29 L271.31,126.26 L271.81,126.24 L272.31,126.21 L272.81,126.19 L273.31,126.17 L273.81,126.15 L274.31,126.13 L274.81,126.10 L275.31,126.09 L275.81,126.07 L276.31,126.05 L276.81,126.03 L277.31,126.01 L277.81,126.00 L278.31,125.98 L278.81,125.96 L279.31,125.95 L279.81,125.94 L280.31,125.92 L280.81,125.91 L281.31,125.90 L281.81,125.89 L282.31,125.88 L282.81,125.87 L283.31,125.86 L283.81,125.85 L284.31,125.84 L284.81,125.84 L285.31,125.83 L285.81,125.82 L286.31,125.82 L286.81,125.81 L287.31,125.81 L287.81,125.81 L288.31,125.80 L288.81,125.80 L289.31,125.80 L289.81,125.79 L290.31,125.79 L290.81,125.79 L291.31,125.79 L291.81,125.79 L292.31,125.79 L292.81,125.79 L293.31,125.79 L293.81,125.79 L294.31,125.79 L294.81,125.79 L295.31,125.79 L295.81,125.79 L296.31,125.79 L296.81,125.79 L297.31,125.79 L297.81,125.79 L298.31,125.79 L298.81,125.79 L299.31,125.80 L299.81,125.80 L300.31,125.80 L300.81,125.80 L301.31,125.80 L301.81,125.80 L302.31,125.80 L302.81,125.80 L303.31,125.80 L303.81,125.80 L304.31,125.80 L304.81,125.80 L305.31,125.80 L305.81,125.80 L306.31,125.80 L306.81,125.80 L307.31,125.80 L307.81,125.80 L308.31,125.80 L308.81,125.80 L309.31,125.80 L309.81,125.80 L310.31,125.80 L310.81,125.80 L311.31,125.80 L311.81,125.80 L312.31,125.80 L312.81,125.80 L313.31,125.80 L313.81,125.80 L314.31,125.80 L314.81,125.80 L315.31,125.80 L315.81,125.80 L316.31,125.80 L316.81,125.80 L317.31,125.80 L317.81,125.80 L318.31,125.80 L318.81,125.80 L319.31,125.80 L319.81,125.81 L320.31,125.81 L320.81,125.81 L321.31,125.81 L321.81,125.81 L322.31,125.81 L322.81,125.82 L323.31,125.82 L323.81,125.82 L324.31,125.82 L324.81,125.83 L325.31,125.83 L325.81,125.83 L326.31,125.84 L326.81,125.84 L327.31,125.84 L327.81,125.85 L328.31,125.85 L328.81,125.86 L329.31,125.86 L329.81,125.86 L330.31,125.87 L330.81,125.87 L331.31,125.88 L331.81,125.88 L332.31,125.89 L332.81,125.89 L333.31,125.90 L333.81,125.90 L334.31,125.91 L334.81,125.91 L335.31,125.92 L335.81,125.92 L336.31,125.93 L336.81,125.93 L337.31,125.94 L337.81,125.95 L338.31,125.95 L338.81,125.96 L339.31,125.96 L339.81,125.97 L340.31,125.97 L340.81,125.98 L341.31,125.99 L341.81,125.99 L342.31,126.00 L342.81,126.01 L343.31,126.01 L343.81,126.02 L344.31,126.03 L344.81,126.03 L345.31,126.04 L345.81,126.04 L346.31,126.05 L346.81,126.06 L347.31,126.06 L347.81,126.07 L348.31,126.08 L348.81,126.08 L349.31,126.09 L349.81,126.10 L350.31,126.10 L350.81,126.11 L351.31,126.12 L351.81,126.12 L352.31,126.13 L352.81,126.14 L353.31,126.14 L353.81,126.15 L354.31,126.16 L354.81,126.16 L355.31,126.17 L355.81,126.17 L356.31,126.18 L356.81,126.19 L357.31,126.19 L357.81,126.20 L358.31,126.20 L358.81,126.21 L359.31,126.22 L359.81,126.22 L360.31,126.23 L360.81,126.23 L361.31,126.24 L361.81,126.24 L362.31,126.25 L362.81,126.25 L363.31,126.26 L363.81,126.26 L364.31,126.26 L364.81,126.27 L365.31,126.27 L365.81,126.27 L366.31,126.28 L366.81,126.28" stroke="#18ac18" stroke-dasharray="4.7 1.75" stroke-dashoffset="6.27" stroke-width="2.1"/>
<path d="M45.40,97.70 L45.59,97.07 L45.80,96.47 L46.05,95.91 L46.32,95.37 L46.62,94.86 L46.94,94.38 L47.28,93.92 L47.65,93.49 L48.04,93.08 L48.44,92.69 L48.87,92.33 L49.31,91.98 L49.77,91.65 L50.24,91.34 L50.73,91.05 L51.23,90.77 L51.74,90.50 L52.27,90.25 L52.80,90.01 L53.34,89.78 L53.88,89.57 L54.43,89.37 L54.99,89.21 L55.55,89.08 L56.11,89.01 L56.67,89.00 L57.24,89.05 L57.79,89.16 L58.35,89.31 L58.90,89.51 L59.44,89.75 L59.98,90.01 L60.50,90.30 L61.01,90.61 L61.51,90.93 L61.99,91.26 L62.46,91.60 L62.91,91.96 L63.35,92.33 L63.77,92.72 L64.17,93.12 L64.56,93.54 L64.93,93.97 L65.28,94.42 L65.62,94.89 L65.94,95.36 L66.27,95.84 L66.58,96.32 L66.90,96.80 L67.22,97.28 L67.54,97.76 L67.87,98.24 L68.20,98.71 L68.53,99.18 L68.86,99.65 L69.19,100.12 L69.52,100.59 L69.86,101.05 L70.20,101.52 L70.53,101.98 L70.87,102.45 L71.21,102.91 L71.55,103.37 L71.89,103.83 L72.23,104.30 L72.56,104.76 L72.90,105.22 L73.24,105.69 L73.57,106.15 L73.91,106.62 L74.25,107.09 L74.58,107.55 L74.91,108.02 L75.25,108.49 L75.58,108.96 L75.91,109.43 L76.23,109.90 L76.56,110.37 L76.89,110.85 L77.21,111.32 L77.53,111.80 L77.86,112.28 L78.17,112.76 L78.49,113.24 L78.81,113.72 L79.13,114.20 L79.46,114.68 L79.78,115.15 L80.11,115.62 L80.44,116.09 L80.78,116.56 L81.12,117.02 L81.47,117.48 L81.83,117.93 L82.19,118.37 L82.56,118.81 L82.94,119.24 L83.33,119.66 L83.73,120.07 L84.14,120.48 L84.56,120.87 L84.99,121.26 L85.43,121.63 L85.87,122.00 L86.32,122.36 L86.79,122.70 L87.25,123.04 L87.73,123.37 L88.21,123.68 L88.70,123.99 L89.20,124.28 L89.70,124.56 L90.21,124.83 L90.73,125.09 L91.25,125.33 L91.78,125.56 L92.31,125.78 L92.85,125.98 L93.39,126.17 L93.94,126.34 L94.50,126.50 L95.06,126.65 L95.62,126.77 L96.19,126.88 L96.76,126.96 L97.33,127.03 L97.91,127.08 L98.48,127.10 L99.05,127.10 L99.63,127.08 L100.20,127.03 L100.70,126.97 L101.20,126.90 L101.70,126.81 L102.20,126.71 L102.70,126.61 L103.20,126.49 L103.70,126.37 L104.20,126.24 L104.70,126.11 L105.20,125.97 L105.70,125.83 L106.20,125.68 L106.70,125.53 L107.20,125.38 L107.70,125.22 L108.20,125.07 L108.70,124.91 L109.20,124.76 L109.70,124.61 L110.20,124.46 L110.70,124.31 L111.20,124.16 L111.70,124.02 L112.20,123.87 L112.70,123.73 L113.20,123.60 L113.70,123.46 L114.20,123.32 L114.70,123.19 L115.20,123.06 L115.70,122.92 L116.20,122.79 L116.70,122.66 L117.20,122.53 L117.70,122.39 L118.20,122.26 L118.70,122.13 L119.20,122.00 L119.70,121.86 L120.20,121.73 L120.70,121.59 L121.20,121.46 L121.70,121.32 L122.20,121.18 L122.70,121.05 L123.20,120.91 L123.70,120.77 L124.20,120.63 L124.70,120.49 L125.20,120.35 L125.70,120.20 L126.20,120.06 L126.70,119.92 L127.20,119.77 L127.70,119.63 L128.20,119.49 L128.70,119.34 L129.20,119.20 L129.70,119.05 L130.20,118.91 L130.70,118.76 L131.20,118.62 L131.70,118.48 L132.20,118.33 L132.70,118.19 L133.20,118.04 L133.70,117.90 L134.20,117.76 L134.70,117.61 L135.20,117.47 L135.70,117.33 L136.20,117.19 L136.70,117.05 L137.20,116.91 L137.70,116.77 L138.20,116.64 L138.70,116.50 L139.20,116.37 L139.70,116.23 L140.20,116.10 L140.70,115.97 L141.20,115.84 L141.70,115.72 L142.20,115.59 L142.70,115.47 L143.20,115.34 L143.70,115.22 L144.20,115.11 L144.70,114.99 L145.20,114.88 L145.70,114.76 L146.20,114.65 L146.70,114.55 L147.20,114.44 L147.70,114.34 L148.20,114.24 L148.70,114.14 L149.20,114.05 L149.70,113.95 L150.20,113.86 L150.70,113.77 L151.20,113.69 L151.70,113.61 L152.20,113.53 L152.70,113.45 L153.20,113.37 L153.70,113.30 L154.20,113.23 L154.70,113.16 L155.20,113.10 L155.70,113.03 L156.20,112.97 L156.70,112.91 L157.20,112.85 L157.70,112.80 L158.20,112.75 L158.70,112.70 L159.20,112.65 L159.70,112.60 L160.20,112.56 L160.70,112.52 L161.20,112.48 L161.70,112.45 L162.20,112.41 L162.70,112.38 L163.20,112.36 L163.70,112.33 L164.20,112.31 L164.70,112.30 L165.20,112.28 L165.70,112.27 L166.20,112.27 L166.70,112.26 L167.20,112.26 L167.70,112.27 L168.20,112.28 L168.70,112.29 L169.20,112.31 L169.70,112.33 L170.20,112.35 L170.70,112.38 L171.20,112.41 L171.70,112.44 L172.20,112.48 L172.70,112.51 L173.20,112.55 L173.70,112.60 L174.20,112.64 L174.70,112.69 L175.20,112.74 L175.70,112.79 L176.20,112.84 L176.70,112.89 L177.20,112.94 L177.70,112.99 L178.20,113.05 L178.70,113.10 L179.20,113.15 L179.70,113.21 L180.20,113.26 L180.70,113.32 L181.20,113.37 L181.70,113.43 L182.20,113.48 L182.70,113.54 L183.20,113.59 L183.70,113.65 L184.20,113.70 L184.70,113.76 L185.20,113.81 L185.70,113.87 L186.20,113.93 L186.70,113.98 L187.20,114.04 L187.70,114.10 L188.20,114.16 L188.70,114.21 L189.20,114.27 L189.70,114.33 L190.20,114.39 L190.70,114.45 L191.20,114.50 L191.70,114.56 L192.20,114.62 L192.70,114.68 L193.20,114.74 L193.70,114.79 L194.20,114.85 L194.70,114.91 L195.20,114.97 L195.70,115.02 L196.20,115.08 L196.70,115.13 L197.20,115.19 L197.70,115.24 L198.20,115.29 L198.70,115.35 L199.20,115.40 L199.70,115.45 L200.20,115.50 L200.70,115.54 L201.20,115.59 L201.70,115.64 L202.20,115.68 L202.70,115.73 L203.20,115.77 L203.70,115.82 L204.20,115.86 L204.70,115.90 L205.20,115.94 L205.70,115.98 L206.20,116.01 L206.70,116.05 L207.20,116.09 L207.70,116.12 L208.20,116.16 L208.70,116.19 L209.20,116.22 L209.70,116.25 L210.20,116.29 L210.70,116.32 L211.20,116.35 L211.70,116.38 L212.20,116.40 L212.70,116.43 L213.20,116.46 L213.70,116.49 L214.20,116.51 L214.70,116.54 L215.20,116.56 L215.70,116.59 L216.20,116.61 L216.70,116.64 L217.20,116.66 L217.70,116.69 L218.20,116.71 L218.70,116.73 L219.20,116.75 L219.70,116.78 L220.20,116.80 L220.70,116.82 L221.20,116.84 L221.70,116.86 L222.20,116.88 L222.70,116.90 L223.20,116.92 L223.70,116.94 L224.20,116.96 L224.70,116.98 L225.20,117.00 L225.70,117.02 L226.20,117.03 L226.70,117.05 L227.20,117.07 L227.70,117.08 L228.20,117.10 L228.70,117.11 L229.20,117.13 L229.70,117.14 L230.20,117.16 L230.70,117.17 L231.20,117.18 L231.70,117.19 L232.20,117.20 L232.70,117.21 L233.20,117.22 L233.70,117.23 L234.20,117.24 L234.70,117.24 L235.20,117.25 L235.70,117.25 L236.20,117.26 L236.70,117.26 L237.20,117.26 L237.70,117.26 L238.20,117.27 L238.70,117.26 L239.20,117.26 L239.70,117.26 L240.20,117.26 L240.70,117.25 L241.20,117.25 L241.70,117.24 L242.20,117.24 L242.70,117.23 L243.20,117.22 L243.70,117.21 L244.20,117.20 L244.70,117.19 L245.20,117.18 L245.70,117.16 L246.20,117.15 L246.70,117.14 L247.20,117.12 L247.70,117.11 L248.20,117.09 L248.70,117.07 L249.20,117.06 L249.70,117.04 L250.20,117.02 L250.70,117.00 L251.20,116.98 L251.70,116.96 L252.20,116.94 L252.70,116.92 L253.20,116.90 L253.70,116.88 L254.20,116.86 L254.70,116.84 L255.20,116.82 L255.70,116.79 L256.20,116.77 L256.70,116.75 L257.20,116.73 L257.70,116.71 L258.20,116.68 L258.70,116.66 L259.20,116.64 L259.70,116.62 L260.20,116.60 L260.70,116.57 L261.20,116.55 L261.70,116.53 L262.20,116.51 L262.70,116.49 L263.20,116.47 L263.70,116.45 L264.20,116.43 L264.70,116.40 L265.20,116.38 L265.70,116.36 L266.20,116.34 L266.70,116.33 L267.20,116.31 L267.70,116.29 L268.20,116.27 L268.70,116.25 L269.20,116.23 L269.70,116.21 L270.20,116.20 L270.70,116.18 L271.20,116.16 L271.70,116.14 L272.20,116.13 L272.70,116.11 L273.20,116.10 L273.70,116.08 L274.20,116.07 L274.70,116.05 L275.20,116.04 L275.70,116.02 L276.20,116.01 L276.70,115.99 L277.20,115.98 L277.70,115.97 L278.20,115.96 L278.70,115.94 L279.20,115.93 L279.70,115.92 L280.20,115.91 L280.70,115.90 L281.20,115.89 L281.70,115.88 L282.20,115.87 L282.70,115.86 L283.20,115.85 L283.70,115.85 L284.20,115.84 L284.70,115.83 L285.20,115.82 L285.70,115.81 L286.20,115.81 L286.70,115.80 L287.20,115.80 L287.70,115.79 L288.20,115.78 L288.70,115.78 L289.20,115.77 L289.70,115.77 L290.20,115.76 L290.70,115.76 L291.20,115.75 L291.70,115.75 L292.20,115.75 L292.70,115.74 L293.20,115.74 L293.70,115.74 L294.20,115.73 L294.70,115.73 L295.20,115.73 L295.70,115.72 L296.20,115.72 L296.70,115.72 L297.20,115.71 L297.70,115.71 L298.20,115.71 L298.70,115.71 L299.20,115.71 L299.70,115.70 L300.20,115.70 L300.70,115.70 L301.20,115.70 L301.70,115.70 L302.20,115.69 L302.70,115.69 L303.20,115.69 L303.70,115.69 L304.20,115.69 L304.70,115.69 L305.20,115.69 L305.70,115.68 L306.20,115.68 L306.70,115.68 L307.20,115.68 L307.70,115.68 L308.20,115.68 L308.70,115.68 L309.20,115.68 L309.70,115.68 L310.20,115.68 L310.70,115.68 L311.20,115.68 L311.70,115.68 L312.20,115.68 L312.70,115.68 L313.20,115.68 L313.70,115.68 L314.20,115.68 L314.70,115.68 L315.20,115.69 L315.70,115.69 L316.20,115.69 L316.70,115.69 L317.20,115.69 L317.70,115.70 L318.20,115.70 L318.70,115.70 L319.20,115.70 L319.70,115.71 L320.20,115.71 L320.70,115.71 L321.20,115.72 L321.70,115.72 L322.20,115.72 L322.70,115.73 L323.20,115.73 L323.70,115.74 L324.20,115.74 L324.70,115.75 L325.20,115.75 L325.70,115.76 L326.20,115.76 L326.70,115.77 L327.20,115.77 L327.70,115.78 L328.20,115.79 L328.70,115.79 L329.20,115.80 L329.70,115.81 L330.20,115.81 L330.70,115.82 L331.20,115.83 L331.70,115.83 L332.20,115.84 L332.70,115.85 L333.20,115.85 L333.70,115.86 L334.20,115.87 L334.70,115.87 L335.20,115.88 L335.70,115.89 L336.20,115.90 L336.70,115.90 L337.20,115.91 L337.70,115.92 L338.20,115.93 L338.70,115.93 L339.20,115.94 L339.70,115.95 L340.20,115.96 L340.70,115.96 L341.20,115.97 L341.70,115.98 L342.20,115.99 L342.70,115.99 L343.20,116.00 L343.70,116.01 L344.20,116.02 L344.70,116.02 L345.20,116.03 L345.70,116.04 L346.20,116.04 L346.70,116.05 L347.20,116.06 L347.70,116.07 L348.20,116.07 L348.70,116.08 L349.20,116.08 L349.70,116.09 L350.20,116.10 L350.70,116.10 L351.20,116.11 L351.70,116.11 L352.20,116.12 L352.70,116.13 L353.20,116.13 L353.70,116.14 L354.20,116.14 L354.70,116.15 L355.20,116.15 L355.70,116.15 L356.20,116.16 L356.70,116.16 L357.20,116.17 L357.70,116.17 L358.20,116.17 L358.70,116.18 L359.20,116.18 L359.70,116.18 L360.20,116.18 L360.70,116.19 L361.20,116.19 L361.70,116.19 L362.20,116.19 L362.70,116.19 L363.20,116.19 L363.70,116.20 L364.20,116.20 L364.70,116.20 L365.20,116.20 L365.70,116.20 L366.20,116.20 L366.70,116.20" stroke="#00ffff" stroke-dasharray="8.35 1.6 1.6 1.55" stroke-dashoffset="1.7"/>
<path d="M45.40,97.70 L45.49,97.12 L45.58,96.53 L45.67,95.94 L45.75,95.36 L45.84,94.77 L45.93,94.19 L46.02,93.60 L46.12,93.02 L46.21,92.43 L46.31,91.85 L46.40,91.26 L46.50,90.68 L46.61,90.10 L46.71,89.51 L46.83,88.93 L46.94,88.35 L47.06,87.77 L47.18,87.19 L47.31,86.62 L47.44,86.04 L47.58,85.46 L47.73,84.89 L47.87,84.32 L48.02,83.74 L48.18,83.17 L48.33,82.60 L48.49,82.03 L48.65,81.46 L48.81,80.89 L48.96,80.32 L49.11,79.75 L49.27,79.17 L49.41,78.60 L49.56,78.03 L49.71,77.45 L49.86,76.88 L50.01,76.31 L50.16,75.74 L50.32,75.17 L50.48,74.60 L50.64,74.03 L50.81,73.46 L50.99,72.89 L51.18,72.33 L51.37,71.77 L51.57,71.21 L51.78,70.66 L52.00,70.10 L52.23,69.56 L52.47,69.01 L52.72,68.48 L52.98,67.94 L53.25,67.42 L53.54,66.89 L53.83,66.38 L54.14,65.87 L54.46,65.37 L54.81,64.88 L55.17,64.41 L55.55,63.96 L55.96,63.52 L56.39,63.12 L56.86,62.74 L57.36,62.39 L57.90,62.09 L58.45,61.84 L59.03,61.67 L59.61,61.60 L60.19,61.64 L60.75,61.78 L61.31,62.02 L61.84,62.33 L62.34,62.69 L62.81,63.08 L63.24,63.50 L63.64,63.94 L64.02,64.40 L64.39,64.87 L64.74,65.34 L65.08,65.82 L65.42,66.30 L65.78,66.77 L66.14,67.23 L66.51,67.69 L66.89,68.14 L67.29,68.58 L67.69,69.01 L68.09,69.45 L68.50,69.87 L68.92,70.30 L69.33,70.72 L69.75,71.15 L70.17,71.57 L70.59,72.00 L71.01,72.42 L71.43,72.84 L71.85,73.26 L72.28,73.67 L72.72,74.06 L73.17,74.45 L73.63,74.82 L74.09,75.18 L74.58,75.52 L75.08,75.84 L75.59,76.14 L76.11,76.42 L76.64,76.69 L77.18,76.93 L77.74,77.16 L78.29,77.36 L78.86,77.55 L79.43,77.72 L80.00,77.87 L80.58,78.01 L81.16,78.13 L81.74,78.23 L82.33,78.32 L82.92,78.39 L83.51,78.45 L84.10,78.50 L84.69,78.54 L85.28,78.56 L85.87,78.58 L86.46,78.60 L87.05,78.60 L87.65,78.60 L88.24,78.60 L88.83,78.60 L89.43,78.60 L90.02,78.60 L90.61,78.60 L91.20,78.61 L91.80,78.62 L92.39,78.63 L92.98,78.66 L93.57,78.69 L94.16,78.74 L94.75,78.79 L95.34,78.86 L95.93,78.95 L96.51,79.05 L97.09,79.16 L97.67,79.29 L98.25,79.44 L98.81,79.61 L99.38,79.79 L99.93,80.00 L100.49,80.22 L100.99,80.43 L101.49,80.64 L101.99,80.85 L102.49,81.06 L102.99,81.25 L103.49,81.44 L103.99,81.61 L104.49,81.77 L104.99,81.91 L105.49,82.04 L105.99,82.15 L106.49,82.25 L106.99,82.34 L107.49,82.43 L107.99,82.50 L108.49,82.57 L108.99,82.63 L109.49,82.69 L109.99,82.74 L110.49,82.79 L110.99,82.84 L111.49,82.88 L111.99,82.92 L112.49,82.95 L112.99,82.99 L113.49,83.02 L113.99,83.05 L114.49,83.08 L114.99,83.11 L115.49,83.14 L115.99,83.17 L116.49,83.20 L116.99,83.22 L117.49,83.25 L117.99,83.28 L118.49,83.30 L118.99,83.33 L119.49,83.35 L119.99,83.38 L120.49,83.41 L120.99,83.44 L121.49,83.46 L121.99,83.49 L122.49,83.52 L122.99,83.55 L123.49,83.57 L123.99,83.60 L124.49,83.63 L124.99,83.65 L125.49,83.68 L125.99,83.70 L126.49,83.73 L126.99,83.76 L127.49,83.78 L127.99,83.80 L128.49,83.83 L128.99,83.85 L129.49,83.87 L129.99,83.89 L130.49,83.91 L130.99,83.93 L131.49,83.95 L131.99,83.97 L132.49,83.99 L132.99,84.00 L133.49,84.02 L133.99,84.03 L134.49,84.05 L134.99,84.06 L135.49,84.07 L135.99,84.08 L136.49,84.09 L136.99,84.10 L137.49,84.10 L137.99,84.11 L138.49,84.11 L138.99,84.12 L139.49,84.12 L139.99,84.12 L140.49,84.12 L140.99,84.11 L141.49,84.11 L141.99,84.10 L142.49,84.10 L142.99,84.09 L143.49,84.08 L143.99,84.07 L144.49,84.05 L144.99,84.04 L145.49,84.03 L145.99,84.01 L146.49,83.99 L146.99,83.97 L147.49,83.95 L147.99,83.93 L148.49,83.91 L148.99,83.88 L149.49,83.86 L149.99,83.83 L150.49,83.81 L150.99,83.78 L151.49,83.75 L151.99,83.73 L152.49,83.70 L152.99,83.67 L153.49,83.64 L153.99,83.61 L154.49,83.58 L154.99,83.55 L155.49,83.52 L155.99,83.49 L156.49,83.46 L156.99,83.43 L157.49,83.40 L157.99,83.37 L158.49,83.34 L158.99,83.31 L159.49,83.29 L159.99,83.26 L160.49,83.23 L160.99,83.21 L161.49,83.18 L161.99,83.16 L162.49,83.14 L162.99,83.11 L163.49,83.09 L163.99,83.07 L164.49,83.05 L164.99,83.03 L165.49,83.01 L165.99,82.99 L166.49,82.98 L166.99,82.96 L167.49,82.95 L167.99,82.93 L168.49,82.92 L168.99,82.90 L169.49,82.89 L169.99,82.88 L170.49,82.87 L170.99,82.86 L171.49,82.85 L171.99,82.84 L172.49,82.83 L172.99,82.82 L173.49,82.81 L173.99,82.80 L174.49,82.79 L174.99,82.78 L175.49,82.77 L175.99,82.76 L176.49,82.75 L176.99,82.74 L177.49,82.74 L177.99,82.73 L178.49,82.72 L178.99,82.71 L179.49,82.70 L179.99,82.69 L180.49,82.68 L180.99,82.67 L181.49,82.66 L181.99,82.65 L182.49,82.64 L182.99,82.63 L183.49,82.62 L183.99,82.61 L184.49,82.60 L184.99,82.59 L185.49,82.58 L185.99,82.57 L186.49,82.56 L186.99,82.55 L187.49,82.54 L187.99,82.53 L188.49,82.52 L188.99,82.51 L189.49,82.50 L189.99,82.50 L190.49,82.49 L190.99,82.48 L191.49,82.47 L191.99,82.47 L192.49,82.46 L192.99,82.45 L193.49,82.45 L193.99,82.45 L194.49,82.44 L194.99,82.44 L195.49,82.44 L195.99,82.43 L196.49,82.43 L196.99,82.43 L197.49,82.43 L197.99,82.44 L198.49,82.44 L198.99,82.44 L199.49,82.45 L199.99,82.45 L200.49,82.45 L200.99,82.46 L201.49,82.47 L201.99,82.47 L202.49,82.48 L202.99,82.49 L203.49,82.50 L203.99,82.51 L204.49,82.52 L204.99,82.53 L205.49,82.54 L205.99,82.55 L206.49,82.56 L206.99,82.58 L207.49,82.59 L207.99,82.60 L208.49,82.61 L208.99,82.63 L209.49,82.64 L209.99,82.65 L210.49,82.67 L210.99,82.68 L211.49,82.70 L211.99,82.71 L212.49,82.72 L212.99,82.74 L213.49,82.75 L213.99,82.76 L214.49,82.78 L214.99,82.79 L215.49,82.80 L215.99,82.82 L216.49,82.83 L216.99,82.84 L217.49,82.86 L217.99,82.87 L218.49,82.88 L218.99,82.89 L219.49,82.90 L219.99,82.91 L220.49,82.93 L220.99,82.94 L221.49,82.95 L221.99,82.96 L222.49,82.97 L222.99,82.98 L223.49,82.99 L223.99,83.00 L224.49,83.01 L224.99,83.02 L225.49,83.02 L225.99,83.03 L226.49,83.04 L226.99,83.05 L227.49,83.06 L227.99,83.06 L228.49,83.07 L228.99,83.08 L229.49,83.09 L229.99,83.09 L230.49,83.10 L230.99,83.11 L231.49,83.11 L231.99,83.12 L232.49,83.13 L232.99,83.13 L233.49,83.14 L233.99,83.14 L234.49,83.15 L234.99,83.15 L235.49,83.16 L235.99,83.16 L236.49,83.17 L236.99,83.17 L237.49,83.18 L237.99,83.18 L238.49,83.19 L238.99,83.19 L239.49,83.20 L239.99,83.20 L240.49,83.20 L240.99,83.21 L241.49,83.21 L241.99,83.22 L242.49,83.22 L242.99,83.22 L243.49,83.23 L243.99,83.23 L244.49,83.23 L244.99,83.23 L245.49,83.24 L245.99,83.24 L246.49,83.24 L246.99,83.25 L247.49,83.25 L247.99,83.25 L248.49,83.25 L248.99,83.26 L249.49,83.26 L249.99,83.26 L250.49,83.26 L250.99,83.26 L251.49,83.27 L251.99,83.27 L252.49,83.27 L252.99,83.27 L253.49,83.27 L253.99,83.27 L254.49,83.28 L254.99,83.28 L255.49,83.28 L255.99,83.28 L256.49,83.28 L256.99,83.28 L257.49,83.28 L257.99,83.28 L258.49,83.29 L258.99,83.29 L259.49,83.29 L259.99,83.29 L260.49,83.29 L260.99,83.29 L261.49,83.29 L261.99,83.29 L262.49,83.29 L262.99,83.29 L263.49,83.29 L263.99,83.29 L264.49,83.29 L264.99,83.29 L265.49,83.30 L265.99,83.30 L266.49,83.30 L266.99,83.30 L267.49,83.30 L267.99,83.30 L268.49,83.30 L268.99,83.30 L269.49,83.30 L269.99,83.30 L270.49,83.30 L270.99,83.30 L271.49,83.30 L271.99,83.30 L272.49,83.30 L272.99,83.30 L273.49,83.30 L273.99,83.30 L274.49,83.30 L274.99,83.30 L275.49,83.30 L275.99,83.30 L276.49,83.30 L276.99,83.30 L277.49,83.30 L277.99,83.30 L278.49,83.30 L278.99,83.30 L279.49,83.30 L279.99,83.30 L280.49,83.30 L280.99,83.30 L281.49,83.30 L281.99,83.30 L282.49,83.30 L282.99,83.30 L283.49,83.30 L283.99,83.30 L284.49,83.30 L284.99,83.30 L285.49,83.30 L285.99,83.30 L286.49,83.30 L286.99,83.30 L287.49,83.30 L287.99,83.30 L288.49,83.30 L288.99,83.30 L289.49,83.30 L289.99,83.30 L290.49,83.30 L290.99,83.30 L291.49,83.30 L291.99,83.30 L292.49,83.30 L292.99,83.30 L293.49,83.30 L293.99,83.30 L294.49,83.30 L294.99,83.30 L295.49,83.30 L295.99,83.30 L296.49,83.30 L296.99,83.30 L297.49,83.30 L297.99,83.30 L298.49,83.30 L298.99,83.30 L299.49,83.30 L299.99,83.30 L300.49,83.30 L300.99,83.30 L301.49,83.30 L301.99,83.30 L302.49,83.30 L302.99,83.30 L303.49,83.30 L303.99,83.30 L304.49,83.30 L304.99,83.30 L305.49,83.30 L305.99,83.30 L306.49,83.30 L306.99,83.30 L307.49,83.30 L307.99,83.30 L308.49,83.30 L308.99,83.30 L309.49,83.30 L309.99,83.30 L310.49,83.30 L310.99,83.30 L311.49,83.30 L311.99,83.30 L312.49,83.30 L312.99,83.30 L313.49,83.30 L313.99,83.30 L314.49,83.30 L314.99,83.30 L315.49,83.30 L315.99,83.30 L316.49,83.30 L316.99,83.30 L317.49,83.30 L317.99,83.30 L318.49,83.30 L318.99,83.30 L319.49,83.30 L319.99,83.30 L320.49,83.30 L320.99,83.30 L321.49,83.30 L321.99,83.30 L322.49,83.30 L322.99,83.30 L323.49,83.30 L323.99,83.30 L324.49,83.30 L324.99,83.30 L325.49,83.30 L325.99,83.30 L326.49,83.30 L326.99,83.30 L327.49,83.30 L327.99,83.30 L328.49,83.30 L328.99,83.30 L329.49,83.30 L329.99,83.30 L330.49,83.30 L330.99,83.30 L331.49,83.30 L331.99,83.30 L332.49,83.30 L332.99,83.30 L333.49,83.30 L333.99,83.30 L334.49,83.30 L334.99,83.30 L335.49,83.30 L335.99,83.30 L336.49,83.30 L336.99,83.30 L337.49,83.30 L337.99,83.30 L338.49,83.30 L338.99,83.30 L339.49,83.30 L339.99,83.30 L340.49,83.30 L340.99,83.30 L341.49,83.30 L341.99,83.30 L342.49,83.30 L342.99,83.30 L343.49,83.30 L343.99,83.30 L344.49,83.30 L344.99,83.30 L345.49,83.30 L345.99,83.30 L346.49,83.30 L346.99,83.30 L347.49,83.30 L347.99,83.30 L348.49,83.30 L348.99,83.30 L349.49,83.30 L349.99,83.30 L350.49,83.30 L350.99,83.30 L351.49,83.30 L351.99,83.30 L352.49,83.30 L352.99,83.30 L353.49,83.30 L353.99,83.30 L354.49,83.30 L354.99,83.30 L355.49,83.30 L355.99,83.30 L356.49,83.30 L356.99,83.30 L357.49,83.30 L357.99,83.30 L358.49,83.30 L358.99,83.30 L359.49,83.30 L359.99,83.30 L360.49,83.30 L360.99,83.30 L361.49,83.30 L361.99,83.30 L362.49,83.30 L362.99,83.30 L363.49,83.30 L363.99,83.30 L364.49,83.30 L364.99,83.30 L365.49,83.30 L365.99,83.30 L366.49,83.30 L366.99,83.30" stroke="#0606fa" stroke-dasharray="7.95 1.8 1.6 1.85 1.6 1.65" stroke-dashoffset="0.32"/>
<path d="M45.40,97.70 L45.45,97.02 L45.51,96.33 L45.56,95.65 L45.61,94.96 L45.66,94.28 L45.71,93.60 L45.76,92.91 L45.81,92.23 L45.86,91.54 L45.91,90.86 L45.95,90.17 L46.00,89.49 L46.05,88.81 L46.09,88.12 L46.14,87.44 L46.19,86.75 L46.23,86.07 L46.28,85.38 L46.32,84.70 L46.36,84.01 L46.41,83.33 L46.45,82.65 L46.49,81.96 L46.53,81.28 L46.58,80.59 L46.62,79.91 L46.66,79.22 L46.70,78.54 L46.74,77.85 L46.78,77.17 L46.82,76.48 L46.86,75.80 L46.90,75.11 L46.94,74.43 L46.98,73.74 L47.02,73.06 L47.06,72.37 L47.10,71.69 L47.14,71.00 L47.18,70.32 L47.22,69.63 L47.26,68.95 L47.30,68.26 L47.34,67.58 L47.38,66.89 L47.42,66.21 L47.45,65.52 L47.49,64.84 L47.53,64.15 L47.57,63.47 L47.61,62.78 L47.65,62.10 L47.68,61.41 L47.72,60.73 L47.76,60.04 L47.80,59.36 L47.83,58.67 L47.87,57.99 L47.91,57.30 L47.94,56.62 L47.98,55.93 L48.01,55.25 L48.05,54.57 L48.08,53.88 L48.12,53.20 L48.15,52.51 L48.19,51.83 L48.22,51.14 L48.26,50.46 L48.29,49.77 L48.32,49.09 L48.36,48.40 L48.39,47.72 L48.42,47.03 L48.45,46.35 L48.48,45.66 L48.51,44.98 L48.54,44.29 L48.57,43.60 L48.60,42.92 L48.63,42.23 L48.66,41.54 L48.69,40.86 L48.72,40.17 L48.75,39.49 L48.78,38.80 L48.81,38.11 L48.84,37.43 L48.88,36.74 L48.91,36.06 L48.95,35.38 L48.98,34.69 L49.02,34.01 L49.06,33.33 L49.11,32.65 L49.15,31.97 L49.20,31.29 L49.25,30.61 L49.30,29.93 L49.36,29.25 L49.42,28.56 L49.49,27.88 L49.55,27.19 L49.62,26.50 L49.70,25.81 L49.78,25.11 L49.86,24.41 L49.95,23.71 L50.04,23.02 L50.13,22.32 L50.22,21.63 L50.31,20.94 L50.40,20.26 L50.49,19.58 L50.58,18.91 L50.67,18.26 L50.75,17.61 L50.83,16.98 L50.90,16.36 L50.98,15.74 L51.06,15.11 L51.15,14.48 L51.24,13.82 L51.35,13.14 L51.48,12.43 L51.62,11.68 L51.78,10.88 L51.97,10.03 L52.19,9.18 L52.43,8.40 L52.70,7.75 L53.00,7.29 L53.33,7.09 L53.69,7.19 L54.07,7.54 L54.48,8.08 L54.90,8.76 L55.34,9.52 L55.79,10.29 L56.25,11.03 L56.72,11.69 L57.20,12.27 L57.70,12.77 L58.22,13.19 L58.77,13.52 L59.36,13.77 L59.98,13.94 L60.65,14.03 L61.34,14.08 L62.04,14.11 L62.73,14.17 L63.41,14.28 L64.05,14.47 L64.67,14.74 L65.26,15.08 L65.84,15.46 L66.42,15.89 L66.99,16.33 L67.58,16.76 L68.17,17.15 L68.78,17.47 L69.40,17.67 L70.03,17.72 L70.68,17.62 L71.32,17.40 L71.96,17.07 L72.59,16.66 L73.19,16.20 L73.76,15.69 L74.30,15.18 L74.83,14.66 L75.35,14.18 L75.88,13.74 L76.42,13.36 L76.99,13.08 L77.59,12.90 L78.24,12.85 L78.92,12.90 L79.61,13.05 L80.30,13.26 L80.97,13.53 L81.60,13.83 L82.21,14.14 L82.81,14.47 L83.42,14.78 L84.03,15.07 L84.66,15.32 L85.32,15.54 L85.99,15.71 L86.67,15.83 L87.35,15.90 L88.04,15.92 L88.72,15.89 L89.40,15.83 L90.08,15.73 L90.76,15.62 L91.44,15.49 L92.12,15.37 L92.80,15.25 L93.48,15.14 L94.16,15.06 L94.85,15.01 L95.53,14.97 L96.22,14.94 L96.90,14.92 L97.59,14.90 L98.27,14.86 L98.96,14.81 L99.64,14.74 L100.32,14.65 L100.82,14.58 L101.32,14.50 L101.82,14.44 L102.32,14.37 L102.82,14.32 L103.32,14.29 L103.82,14.26 L104.32,14.25 L104.82,14.27 L105.32,14.30 L105.82,14.35 L106.32,14.41 L106.82,14.48 L107.32,14.55 L107.82,14.64 L108.32,14.73 L108.82,14.81 L109.32,14.90 L109.82,14.98 L110.32,15.06 L110.82,15.13 L111.32,15.20 L111.82,15.25 L112.32,15.29 L112.82,15.31 L113.32,15.32 L113.82,15.32 L114.32,15.31 L114.82,15.28 L115.32,15.25 L115.82,15.21 L116.32,15.17 L116.82,15.12 L117.32,15.08 L117.82,15.03 L118.32,14.98 L118.82,14.93 L119.32,14.89 L119.82,14.85 L120.32,14.82 L120.82,14.78 L121.32,14.76 L121.82,14.73 L122.32,14.71 L122.82,14.70 L123.32,14.68 L123.82,14.67 L124.32,14.66 L124.82,14.66 L125.32,14.66 L125.82,14.65 L126.32,14.66 L126.82,14.66 L127.32,14.66 L127.82,14.67 L128.32,14.67 L128.82,14.68 L129.32,14.69 L129.82,14.70 L130.32,14.71 L130.82,14.72 L131.32,14.73 L131.82,14.73 L132.32,14.74 L132.82,14.75 L133.32,14.76 L133.82,14.77 L134.32,14.78 L134.82,14.79 L135.32,14.80 L135.82,14.80 L136.32,14.81 L136.82,14.81 L137.32,14.82 L137.82,14.82 L138.32,14.83 L138.82,14.83 L139.32,14.83 L139.82,14.83 L140.32,14.84 L140.82,14.84 L141.32,14.84 L141.82,14.84 L142.32,14.84 L142.82,14.84 L143.32,14.84 L143.82,14.83 L144.32,14.83 L144.82,14.83 L145.32,14.83 L145.82,14.83 L146.32,14.82 L146.82,14.82 L147.32,14.82 L147.82,14.82 L148.32,14.81 L148.82,14.81 L149.32,14.81 L149.82,14.80 L150.32,14.80 L150.82,14.80 L151.32,14.79 L151.82,14.79 L152.32,14.79 L152.82,14.78 L153.32,14.78 L153.82,14.78 L154.32,14.78 L154.82,14.77 L155.32,14.77 L155.82,14.77 L156.32,14.77 L156.82,14.76 L157.32,14.76 L157.82,14.76 L158.32,14.76 L158.82,14.76 L159.32,14.75 L159.82,14.75 L160.32,14.75 L160.82,14.75 L161.32,14.75 L161.82,14.75 L162.32,14.75 L162.82,14.75 L163.32,14.74 L163.82,14.74 L164.32,14.74 L164.82,14.74 L165.32,14.74 L165.82,14.74 L166.32,14.74 L166.82,14.74 L167.32,14.74 L167.82,14.74 L168.32,14.74 L168.82,14.74 L169.32,14.74 L169.82,14.74 L170.32,14.74 L170.82,14.74 L171.32,14.74 L171.82,14.74 L172.32,14.74 L172.82,14.74 L173.32,14.74 L173.82,14.74 L174.32,14.74 L174.82,14.74 L175.32,14.74 L175.82,14.74 L176.32,14.74 L176.82,14.74 L177.32,14.75 L177.82,14.75 L178.32,14.75 L178.82,14.75 L179.32,14.75 L179.82,14.75 L180.32,14.75 L180.82,14.75 L181.32,14.75 L181.82,14.75 L182.32,14.75 L182.82,14.76 L183.32,14.76 L183.82,14.76 L184.32,14.76 L184.82,14.76 L185.32,14.76 L185.82,14.76 L186.32,14.76 L186.82,14.77 L187.32,14.77 L187.82,14.77 L188.32,14.77 L188.82,14.77 L189.32,14.77 L189.82,14.77 L190.32,14.78 L190.82,14.78 L191.32,14.78 L191.82,14.78 L192.32,14.78 L192.82,14.78 L193.32,14.78 L193.82,14.78 L194.32,14.79 L194.82,14.79 L195.32,14.79 L195.82,14.79 L196.32,14.79 L196.82,14.79 L197.32,14.79 L197.82,14.79 L198.32,14.80 L198.82,14.80 L199.32,14.80 L199.82,14.80 L200.32,14.80 L200.82,14.80 L201.32,14.80 L201.82,14.80 L202.32,14.80 L202.82,14.80 L203.32,14.81 L203.82,14.81 L204.32,14.81 L204.82,14.81 L205.32,14.81 L205.82,14.81 L206.32,14.81 L206.82,14.81 L207.32,14.81 L207.82,14.81 L208.32,14.81 L208.82,14.81 L209.32,14.81 L209.82,14.81 L210.32,14.82 L210.82,14.82 L211.32,14.82 L211.82,14.82 L212.32,14.82 L212.82,14.82 L213.32,14.82 L213.82,14.82 L214.32,14.82 L214.82,14.82 L215.32,14.82 L215.82,14.82 L216.32,14.82 L216.82,14.82 L217.32,14.82 L217.82,14.82 L218.32,14.82 L218.82,14.82 L219.32,14.82 L219.82,14.82 L220.32,14.82 L220.82,14.82 L221.32,14.82 L221.82,14.82 L222.32,14.82 L222.82,14.82 L223.32,14.82 L223.82,14.82 L224.32,14.82 L224.82,14.82 L225.32,14.82 L225.82,14.82 L226.32,14.82 L226.82,14.82 L227.32,14.82 L227.82,14.82 L228.32,14.82 L228.82,14.82 L229.32,14.82 L229.82,14.82 L230.32,14.82 L230.82,14.82 L231.32,14.82 L231.82,14.82 L232.32,14.82 L232.82,14.82 L233.32,14.82 L233.82,14.82 L234.32,14.82 L234.82,14.82 L235.32,14.82 L235.82,14.82 L236.32,14.82 L236.82,14.82 L237.32,14.82 L237.82,14.82 L238.32,14.82 L238.82,14.82 L239.32,14.82 L239.82,14.81 L240.32,14.81 L240.82,14.81 L241.32,14.81 L241.82,14.81 L242.32,14.81 L242.82,14.81 L243.32,14.81 L243.82,14.81 L244.32,14.81 L244.82,14.81 L245.32,14.81 L245.82,14.81 L246.32,14.81 L246.82,14.81 L247.32,14.81 L247.82,14.81 L248.32,14.81 L248.82,14.81 L249.32,14.81 L249.82,14.81 L250.32,14.81 L250.82,14.81 L251.32,14.81 L251.82,14.81 L252.32,14.81 L252.82,14.81 L253.32,14.80 L253.82,14.80 L254.32,14.80 L254.82,14.80 L255.32,14.80 L255.82,14.80 L256.32,14.80 L256.82,14.80 L257.32,14.80 L257.82,14.80 L258.32,14.80 L258.82,14.80 L259.32,14.80 L259.82,14.80 L260.32,14.80 L260.82,14.80 L261.32,14.80 L261.82,14.80 L262.32,14.80 L262.82,14.80 L263.32,14.80 L263.82,14.80 L264.32,14.80 L264.82,14.80 L265.32,14.80 L265.82,14.80 L266.32,14.80 L266.82,14.80 L267.32,14.80 L267.82,14.80 L268.32,14.80 L268.82,14.80 L269.32,14.80 L269.82,14.80 L270.32,14.80 L270.82,14.80 L271.32,14.80 L271.82,14.80 L272.32,14.79 L272.82,14.79 L273.32,14.79 L273.82,14.79 L274.32,14.79 L274.82,14.79 L275.32,14.79 L275.82,14.79 L276.32,14.79 L276.82,14.79 L277.32,14.79 L277.82,14.79 L278.32,14.79 L278.82,14.79 L279.32,14.79 L279.82,14.79 L280.32,14.79 L280.82,14.79 L281.32,14.79 L281.82,14.79 L282.32,14.79 L282.82,14.79 L283.32,14.79 L283.82,14.79 L284.32,14.79 L284.82,14.79 L285.32,14.79 L285.82,14.79 L286.32,14.79 L286.82,14.79 L287.32,14.79 L287.82,14.79 L288.32,14.79 L288.82,14.79 L289.32,14.79 L289.82,14.79 L290.32,14.79 L290.82,14.79 L291.32,14.79 L291.82,14.79 L292.32,14.79 L292.82,14.79 L293.32,14.79 L293.82,14.79 L294.32,14.79 L294.82,14.79 L295.32,14.79 L295.82,14.79 L296.32,14.79 L296.82,14.79 L297.32,14.79 L297.82,14.79 L298.32,14.79 L298.82,14.79 L299.32,14.79 L299.82,14.79 L300.32,14.80 L300.82,14.80 L301.32,14.80 L301.82,14.80 L302.32,14.80 L302.82,14.80 L303.32,14.80 L303.82,14.80 L304.32,14.80 L304.82,14.80 L305.32,14.80 L305.82,14.80 L306.32,14.80 L306.82,14.80 L307.32,14.80 L307.82,14.80 L308.32,14.80 L308.82,14.80 L309.32,14.80 L309.82,14.80 L310.32,14.80 L310.82,14.80 L311.32,14.80 L311.82,14.80 L312.32,14.80 L312.82,14.80 L313.32,14.80 L313.82,14.80 L314.32,14.80 L314.82,14.80 L315.32,14.80 L315.82,14.80 L316.32,14.80 L316.82,14.80 L317.32,14.80 L317.82,14.80 L318.32,14.80 L318.82,14.80 L319.32,14.80 L319.82,14.80 L320.32,14.80 L320.82,14.80 L321.32,14.80 L321.82,14.80 L322.32,14.80 L322.82,14.80 L323.32,14.80 L323.82,14.80 L324.32,14.80 L324.82,14.80 L325.32,14.80 L325.82,14.80 L326.32,14.80 L326.82,14.80 L327.32,14.80 L327.82,14.80 L328.32,14.80 L328.82,14.80 L329.32,14.80 L329.82,14.80 L330.32,14.80 L330.82,14.80 L331.32,14.80 L331.82,14.80 L332.32,14.80 L332.82,14.80 L333.32,14.80 L333.82,14.80 L334.32,14.80 L334.82,14.80 L335.32,14.80 L335.82,14.80 L336.32,14.80 L336.82,14.80 L337.32,14.80 L337.82,14.80 L338.32,14.80 L338.82,14.80 L339.32,14.80 L339.82,14.80 L340.32,14.80 L340.82,14.80 L341.32,14.80 L341.82,14.80 L342.32,14.80 L342.82,14.80 L343.32,14.80 L343.82,14.80 L344.32,14.80 L344.82,14.80 L345.32,14.80 L345.82,14.80 L346.32,14.80 L346.82,14.80 L347.32,14.80 L347.82,14.80 L348.32,14.80 L348.82,14.80 L349.32,14.80 L349.82,14.80 L350.32,14.80 L350.82,14.80 L351.32,14.80 L351.82,14.80 L352.32,14.80 L352.82,14.80 L353.32,14.80 L353.82,14.80 L354.32,14.80 L354.82,14.80 L355.32,14.80 L355.82,14.80 L356.32,14.80 L356.82,14.80 L357.32,14.80 L357.82,14.80 L358.32,14.80 L358.82,14.80 L359.32,14.80 L359.82,14.80 L360.32,14.80 L360.82,14.80 L361.32,14.80 L361.82,14.80 L362.32,14.80 L362.82,14.80 L363.32,14.80 L363.82,14.80 L364.32,14.80 L364.82,14.80 L365.32,14.80 L365.82,14.80 L366.32,14.80 L366.82,14.80" stroke="#000" stroke-dasharray="1.65 1.74" stroke-dashoffset="2.07" stroke-width="1.8"/>
</g>
<g stroke="#000" stroke-width="1.3"><line x1="44.95" y1="201.2" x2="44.95" y2="197.7"/><line x1="44.95" y1="1.9" x2="44.95" y2="5.4"/><line x1="55.70" y1="201.2" x2="55.70" y2="199.1"/><line x1="55.70" y1="1.9" x2="55.70" y2="4.0"/><line x1="66.45" y1="201.2" x2="66.45" y2="199.1"/><line x1="66.45" y1="1.9" x2="66.45" y2="4.0"/><line x1="77.20" y1="201.2" x2="77.20" y2="199.1"/><line x1="77.20" y1="1.9" x2="77.20" y2="4.0"/><line x1="87.95" y1="201.2" x2="87.95" y2="199.1"/><line x1="87.95" y1="1.9" x2="87.95" y2="4.0"/><line x1="98.70" y1="201.2" x2="98.70" y2="197.7"/><line x1="98.70" y1="1.9" x2="98.70" y2="5.4"/><line x1="109.45" y1="201.2" x2="109.45" y2="199.1"/><line x1="109.45" y1="1.9" x2="109.45" y2="4.0"/><line x1="120.20" y1="201.2" x2="120.20" y2="199.1"/><line x1="120.20" y1="1.9" x2="120.20" y2="4.0"/><line x1="130.95" y1="201.2" x2="130.95" y2="199.1"/><line x1="130.95" y1="1.9" x2="130.95" y2="4.0"/><line x1="141.70" y1="201.2" x2="141.70" y2="199.1"/><line x1="141.70" y1="1.9" x2="141.70" y2="4.0"/><line x1="152.45" y1="201.2" x2="152.45" y2="197.7"/><line x1="152.45" y1="1.9" x2="152.45" y2="5.4"/><line x1="163.20" y1="201.2" x2="163.20" y2="199.1"/><line x1="163.20" y1="1.9" x2="163.20" y2="4.0"/><line x1="173.95" y1="201.2" x2="173.95" y2="199.1"/><line x1="173.95" y1="1.9" x2="173.95" y2="4.0"/><line x1="184.70" y1="201.2" x2="184.70" y2="199.1"/><line x1="184.70" y1="1.9" x2="184.70" y2="4.0"/><line x1="195.45" y1="201.2" x2="195.45" y2="199.1"/><line x1="195.45" y1="1.9" x2="195.45" y2="4.0"/><line x1="206.20" y1="201.2" x2="206.20" y2="197.7"/><line x1="206.20" y1="1.9" x2="206.20" y2="5.4"/><line x1="216.95" y1="201.2" x2="216.95" y2="199.1"/><line x1="216.95" y1="1.9" x2="216.95" y2="4.0"/><line x1="227.70" y1="201.2" x2="227.70" y2="199.1"/><line x1="227.70" y1="1.9" x2="227.70" y2="4.0"/><line x1="238.45" y1="201.2" x2="238.45" y2="199.1"/><line x1="238.45" y1="1.9" x2="238.45" y2="4.0"/><line x1="249.20" y1="201.2" x2="249.20" y2="199.1"/><line x1="249.20" y1="1.9" x2="249.20" y2="4.0"/><line x1="259.95" y1="201.2" x2="259.95" y2="197.7"/><line x1="259.95" y1="1.9" x2="259.95" y2="5.4"/><line x1="270.70" y1="201.2" x2="270.70" y2="199.1"/><line x1="270.70" y1="1.9" x2="270.70" y2="4.0"/><line x1="281.45" y1="201.2" x2="281.45" y2="199.1"/><line x1="281.45" y1="1.9" x2="281.45" y2="4.0"/><line x1="292.20" y1="201.2" x2="292.20" y2="199.1"/><line x1="292.20" y1="1.9" x2="292.20" y2="4.0"/><line x1="302.95" y1="201.2" x2="302.95" y2="199.1"/><line x1="302.95" y1="1.9" x2="302.95" y2="4.0"/><line x1="313.70" y1="201.2" x2="313.70" y2="197.7"/><line x1="313.70" y1="1.9" x2="313.70" y2="5.4"/><line x1="324.45" y1="201.2" x2="324.45" y2="199.1"/><line x1="324.45" y1="1.9" x2="324.45" y2="4.0"/><line x1="335.20" y1="201.2" x2="335.20" y2="199.1"/><line x1="335.20" y1="1.9" x2="335.20" y2="4.0"/><line x1="345.95" y1="201.2" x2="345.95" y2="199.1"/><line x1="345.95" y1="1.9" x2="345.95" y2="4.0"/><line x1="356.70" y1="201.2" x2="356.70" y2="199.1"/><line x1="356.70" y1="1.9" x2="356.70" y2="4.0"/><line x1="367.45" y1="201.2" x2="367.45" y2="197.7"/><line x1="367.45" y1="1.9" x2="367.45" y2="5.4"/><line x1="44.7" y1="194.25" x2="46.800000000000004" y2="194.25"/><line x1="367.75" y1="194.25" x2="365.65" y2="194.25"/><line x1="44.7" y1="187.12" x2="48.2" y2="187.12"/><line x1="367.75" y1="187.12" x2="364.25" y2="187.12"/><line x1="44.7" y1="179.99" x2="46.800000000000004" y2="179.99"/><line x1="367.75" y1="179.99" x2="365.65" y2="179.99"/><line x1="44.7" y1="172.85" x2="46.800000000000004" y2="172.85"/><line x1="367.75" y1="172.85" x2="365.65" y2="172.85"/><line x1="44.7" y1="165.72" x2="46.800000000000004" y2="165.72"/><line x1="367.75" y1="165.72" x2="365.65" y2="165.72"/><line x1="44.7" y1="158.58" x2="46.800000000000004" y2="158.58"/><line x1="367.75" y1="158.58" x2="365.65" y2="158.58"/><line x1="44.7" y1="151.45" x2="48.2" y2="151.45"/><line x1="367.75" y1="151.45" x2="364.25" y2="151.45"/><line x1="44.7" y1="144.32" x2="46.800000000000004" y2="144.32"/><line x1="367.75" y1="144.32" x2="365.65" y2="144.32"/><line x1="44.7" y1="137.18" x2="46.800000000000004" y2="137.18"/><line x1="367.75" y1="137.18" x2="365.65" y2="137.18"/><line x1="44.7" y1="130.05" x2="46.800000000000004" y2="130.05"/><line x1="367.75" y1="130.05" x2="365.65" y2="130.05"/><line x1="44.7" y1="122.91" x2="46.800000000000004" y2="122.91"/><line x1="367.75" y1="122.91" x2="365.65" y2="122.91"/><line x1="44.7" y1="115.78" x2="48.2" y2="115.78"/><line x1="367.75" y1="115.78" x2="364.25" y2="115.78"/><line x1="44.7" y1="108.65" x2="46.800000000000004" y2="108.65"/><line x1="367.75" y1="108.65" x2="365.65" y2="108.65"/><line x1="44.7" y1="101.51" x2="46.800000000000004" y2="101.51"/><line x1="367.75" y1="101.51" x2="365.65" y2="101.51"/><line x1="44.7" y1="94.38" x2="46.800000000000004" y2="94.38"/><line x1="367.75" y1="94.38" x2="365.65" y2="94.38"/><line x1="44.7" y1="87.24" x2="46.800000000000004" y2="87.24"/><line x1="367.75" y1="87.24" x2="365.65" y2="87.24"/><line x1="44.7" y1="80.11" x2="48.2" y2="80.11"/><line x1="367.75" y1="80.11" x2="364.25" y2="80.11"/><line x1="44.7" y1="72.98" x2="46.800000000000004" y2="72.98"/><line x1="367.75" y1="72.98" x2="365.65" y2="72.98"/><line x1="44.7" y1="65.84" x2="46.800000000000004" y2="65.84"/><line x1="367.75" y1="65.84" x2="365.65" y2="65.84"/><line x1="44.7" y1="58.71" x2="46.800000000000004" y2="58.71"/><line x1="367.75" y1="58.71" x2="365.65" y2="58.71"/><line x1="44.7" y1="51.57" x2="46.800000000000004" y2="51.57"/><line x1="367.75" y1="51.57" x2="365.65" y2="51.57"/><line x1="44.7" y1="44.44" x2="48.2" y2="44.44"/><line x1="367.75" y1="44.44" x2="364.25" y2="44.44"/><line x1="44.7" y1="37.31" x2="46.800000000000004" y2="37.31"/><line x1="367.75" y1="37.31" x2="365.65" y2="37.31"/><line x1="44.7" y1="30.17" x2="46.800000000000004" y2="30.17"/><line x1="367.75" y1="30.17" x2="365.65" y2="30.17"/><line x1="44.7" y1="23.04" x2="46.800000000000004" y2="23.04"/><line x1="367.75" y1="23.04" x2="365.65" y2="23.04"/><line x1="44.7" y1="15.90" x2="46.800000000000004" y2="15.90"/><line x1="367.75" y1="15.90" x2="365.65" y2="15.90"/><line x1="44.7" y1="8.77" x2="48.2" y2="8.77"/><line x1="367.75" y1="8.77" x2="364.25" y2="8.77"/></g>
<rect x="44.7" y="1.9" width="323.05" height="199.29999999999998" fill="none" stroke="#000" stroke-width="1.6"/>
<g class="tl"><text x="44.95" y="216.9" text-anchor="middle">0</text><text x="98.70" y="216.9" text-anchor="middle">1</text><text x="152.45" y="216.9" text-anchor="middle">2</text><text x="206.20" y="216.9" text-anchor="middle">3</text><text x="259.95" y="216.9" text-anchor="middle">4</text><text x="313.70" y="216.9" text-anchor="middle">5</text><text x="367.45" y="216.9" text-anchor="middle">6</text><text x="42.0" y="192.22" text-anchor="end">0.0</text><text x="42.0" y="156.55" text-anchor="end">0.1</text><text x="42.0" y="120.88" text-anchor="end">0.2</text><text x="42.0" y="85.21" text-anchor="end">0.3</text><text x="42.0" y="49.54" text-anchor="end">0.4</text><text x="42.0" y="13.87" text-anchor="end">0.5</text></g>
<g font-size="15px"><text transform="translate(181.6,239.9) scale(1.13,1)" font-style="italic">T</text><text x="196.3" y="239.9">[</text><text x="200.6" y="239.9">Γ</text><text transform="translate(213.4,234.6) scale(1.18,1)" font-size="10px">−</text><text x="220.6" y="234.6" font-size="10px" font-style="italic">1</text><text x="224.8" y="239.9">]</text></g>
<g transform="translate(14.8,145) rotate(-90)" font-size="15px"><text transform="translate(0.6,0) scale(1.12,1)" font-style="italic">S</text><text x="11.5" y="0">(</text><text transform="translate(15.7,0) scale(1.13,1)" font-style="italic">T</text><text x="27.2" y="0">)</text><text x="34.7" y="0">[</text><text x="40.2" y="0" font-style="italic">π</text><text x="50.2" y="-6.3" font-size="10px" font-style="italic">2</text><text x="55" y="0">Γ</text><text transform="translate(63.7,0) scale(1.12,1)" font-style="italic">G</text><text x="76.3" y="2.6" font-size="10px" font-style="italic">0</text><text x="76.3" y="-6.2" font-size="10px" font-style="italic">2</text><text x="81.1" y="0">]</text></g>
</svg>
</body></html>
